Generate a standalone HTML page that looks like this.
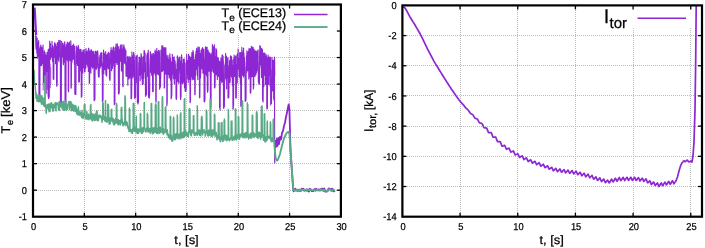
<!DOCTYPE html>
<html><head><meta charset="utf-8"><style>
html,body{margin:0;padding:0;background:#fff;}
body{width:705px;height:248px;overflow:hidden;font-family:"Liberation Sans",sans-serif;}
svg{display:block;will-change:transform;}
text{font-family:"Liberation Sans",sans-serif;text-rendering:geometricPrecision;stroke:#000;stroke-width:0.25px;}
</style></head><body>
<svg width="705" height="248" viewBox="0 0 705 248" font-family="Liberation Sans, sans-serif" fill="#000"><line x1="34.00" y1="190.50" x2="339.00" y2="190.50" stroke="#bcbcbc" stroke-width="1" stroke-dasharray="1 1"/>
<line x1="34.00" y1="163.50" x2="339.00" y2="163.50" stroke="#bcbcbc" stroke-width="1" stroke-dasharray="1 1"/>
<line x1="34.00" y1="137.50" x2="339.00" y2="137.50" stroke="#bcbcbc" stroke-width="1" stroke-dasharray="1 1"/>
<line x1="34.00" y1="110.50" x2="339.00" y2="110.50" stroke="#bcbcbc" stroke-width="1" stroke-dasharray="1 1"/>
<line x1="34.00" y1="84.50" x2="339.00" y2="84.50" stroke="#bcbcbc" stroke-width="1" stroke-dasharray="1 1"/>
<line x1="34.00" y1="57.50" x2="339.00" y2="57.50" stroke="#bcbcbc" stroke-width="1" stroke-dasharray="1 1"/>
<line x1="34.00" y1="31.50" x2="339.00" y2="31.50" stroke="#bcbcbc" stroke-width="1" stroke-dasharray="1 1"/>
<line x1="84.50" y1="5.00" x2="84.50" y2="215.00" stroke="#bcbcbc" stroke-width="1" stroke-dasharray="1 1"/>
<line x1="135.50" y1="5.00" x2="135.50" y2="215.00" stroke="#bcbcbc" stroke-width="1" stroke-dasharray="1 1"/>
<line x1="186.50" y1="5.00" x2="186.50" y2="215.00" stroke="#bcbcbc" stroke-width="1" stroke-dasharray="1 1"/>
<line x1="238.50" y1="5.00" x2="238.50" y2="215.00" stroke="#bcbcbc" stroke-width="1" stroke-dasharray="1 1"/>
<line x1="289.50" y1="5.00" x2="289.50" y2="215.00" stroke="#bcbcbc" stroke-width="1" stroke-dasharray="1 1"/>
<line x1="403.00" y1="186.50" x2="701.00" y2="186.50" stroke="#bcbcbc" stroke-width="1" stroke-dasharray="1 1"/>
<line x1="403.00" y1="156.50" x2="701.00" y2="156.50" stroke="#bcbcbc" stroke-width="1" stroke-dasharray="1 1"/>
<line x1="403.00" y1="126.50" x2="701.00" y2="126.50" stroke="#bcbcbc" stroke-width="1" stroke-dasharray="1 1"/>
<line x1="403.00" y1="95.50" x2="701.00" y2="95.50" stroke="#bcbcbc" stroke-width="1" stroke-dasharray="1 1"/>
<line x1="403.00" y1="65.50" x2="701.00" y2="65.50" stroke="#bcbcbc" stroke-width="1" stroke-dasharray="1 1"/>
<line x1="403.00" y1="35.50" x2="701.00" y2="35.50" stroke="#bcbcbc" stroke-width="1" stroke-dasharray="1 1"/>
<line x1="460.50" y1="6.00" x2="460.50" y2="215.00" stroke="#bcbcbc" stroke-width="1" stroke-dasharray="1 1"/>
<line x1="517.50" y1="6.00" x2="517.50" y2="215.00" stroke="#bcbcbc" stroke-width="1" stroke-dasharray="1 1"/>
<line x1="575.50" y1="6.00" x2="575.50" y2="215.00" stroke="#bcbcbc" stroke-width="1" stroke-dasharray="1 1"/>
<line x1="633.50" y1="6.00" x2="633.50" y2="215.00" stroke="#bcbcbc" stroke-width="1" stroke-dasharray="1 1"/>
<line x1="690.50" y1="6.00" x2="690.50" y2="215.00" stroke="#bcbcbc" stroke-width="1" stroke-dasharray="1 1"/>
<rect x="219" y="5" width="120.5" height="28.6" fill="#fff"/>
<rect x="590" y="6" width="111" height="21.5" fill="#fff"/>
<line x1="33.00" y1="190.17" x2="37.00" y2="190.17" stroke="#000" stroke-width="1.3"/>
<line x1="336.90" y1="190.17" x2="340.90" y2="190.17" stroke="#000" stroke-width="1.3"/>
<line x1="33.00" y1="163.65" x2="37.00" y2="163.65" stroke="#000" stroke-width="1.3"/>
<line x1="336.90" y1="163.65" x2="340.90" y2="163.65" stroke="#000" stroke-width="1.3"/>
<line x1="33.00" y1="137.12" x2="37.00" y2="137.12" stroke="#000" stroke-width="1.3"/>
<line x1="336.90" y1="137.12" x2="340.90" y2="137.12" stroke="#000" stroke-width="1.3"/>
<line x1="33.00" y1="110.60" x2="37.00" y2="110.60" stroke="#000" stroke-width="1.3"/>
<line x1="336.90" y1="110.60" x2="340.90" y2="110.60" stroke="#000" stroke-width="1.3"/>
<line x1="33.00" y1="84.07" x2="37.00" y2="84.07" stroke="#000" stroke-width="1.3"/>
<line x1="336.90" y1="84.07" x2="340.90" y2="84.07" stroke="#000" stroke-width="1.3"/>
<line x1="33.00" y1="57.55" x2="37.00" y2="57.55" stroke="#000" stroke-width="1.3"/>
<line x1="336.90" y1="57.55" x2="340.90" y2="57.55" stroke="#000" stroke-width="1.3"/>
<line x1="33.00" y1="31.03" x2="37.00" y2="31.03" stroke="#000" stroke-width="1.3"/>
<line x1="336.90" y1="31.03" x2="340.90" y2="31.03" stroke="#000" stroke-width="1.3"/>
<line x1="84.32" y1="216.70" x2="84.32" y2="212.70" stroke="#000" stroke-width="1.3"/>
<line x1="84.32" y1="4.50" x2="84.32" y2="8.50" stroke="#000" stroke-width="1.3"/>
<line x1="135.63" y1="216.70" x2="135.63" y2="212.70" stroke="#000" stroke-width="1.3"/>
<line x1="135.63" y1="4.50" x2="135.63" y2="8.50" stroke="#000" stroke-width="1.3"/>
<line x1="186.95" y1="216.70" x2="186.95" y2="212.70" stroke="#000" stroke-width="1.3"/>
<line x1="186.95" y1="4.50" x2="186.95" y2="8.50" stroke="#000" stroke-width="1.3"/>
<line x1="238.27" y1="216.70" x2="238.27" y2="212.70" stroke="#000" stroke-width="1.3"/>
<line x1="238.27" y1="4.50" x2="238.27" y2="8.50" stroke="#000" stroke-width="1.3"/>
<line x1="289.58" y1="216.70" x2="289.58" y2="212.70" stroke="#000" stroke-width="1.3"/>
<line x1="289.58" y1="4.50" x2="289.58" y2="8.50" stroke="#000" stroke-width="1.3"/>
<line x1="402.40" y1="186.51" x2="406.40" y2="186.51" stroke="#000" stroke-width="1.3"/>
<line x1="698.00" y1="186.51" x2="702.00" y2="186.51" stroke="#000" stroke-width="1.3"/>
<line x1="402.40" y1="156.33" x2="406.40" y2="156.33" stroke="#000" stroke-width="1.3"/>
<line x1="698.00" y1="156.33" x2="702.00" y2="156.33" stroke="#000" stroke-width="1.3"/>
<line x1="402.40" y1="126.14" x2="406.40" y2="126.14" stroke="#000" stroke-width="1.3"/>
<line x1="698.00" y1="126.14" x2="702.00" y2="126.14" stroke="#000" stroke-width="1.3"/>
<line x1="402.40" y1="95.96" x2="406.40" y2="95.96" stroke="#000" stroke-width="1.3"/>
<line x1="698.00" y1="95.96" x2="702.00" y2="95.96" stroke="#000" stroke-width="1.3"/>
<line x1="402.40" y1="65.77" x2="406.40" y2="65.77" stroke="#000" stroke-width="1.3"/>
<line x1="698.00" y1="65.77" x2="702.00" y2="65.77" stroke="#000" stroke-width="1.3"/>
<line x1="402.40" y1="35.59" x2="406.40" y2="35.59" stroke="#000" stroke-width="1.3"/>
<line x1="698.00" y1="35.59" x2="702.00" y2="35.59" stroke="#000" stroke-width="1.3"/>
<line x1="460.07" y1="216.70" x2="460.07" y2="212.70" stroke="#000" stroke-width="1.3"/>
<line x1="460.07" y1="5.40" x2="460.07" y2="9.40" stroke="#000" stroke-width="1.3"/>
<line x1="517.75" y1="216.70" x2="517.75" y2="212.70" stroke="#000" stroke-width="1.3"/>
<line x1="517.75" y1="5.40" x2="517.75" y2="9.40" stroke="#000" stroke-width="1.3"/>
<line x1="575.42" y1="216.70" x2="575.42" y2="212.70" stroke="#000" stroke-width="1.3"/>
<line x1="575.42" y1="5.40" x2="575.42" y2="9.40" stroke="#000" stroke-width="1.3"/>
<line x1="633.10" y1="216.70" x2="633.10" y2="212.70" stroke="#000" stroke-width="1.3"/>
<line x1="633.10" y1="5.40" x2="633.10" y2="9.40" stroke="#000" stroke-width="1.3"/>
<line x1="690.77" y1="216.70" x2="690.77" y2="212.70" stroke="#000" stroke-width="1.3"/>
<line x1="690.77" y1="5.40" x2="690.77" y2="9.40" stroke="#000" stroke-width="1.3"/>
<polyline points="34.60,7.60 35.00,14.00 35.40,22.00 35.80,30.00 36.20,35.00" fill="none" stroke="#8d26d3" stroke-width="2.2" stroke-linejoin="round" stroke-opacity="1.0"/>
<polyline points="35.60,30.00 35.80,42.19 35.90,46.75 36.00,48.05 36.10,49.14 36.20,36.71 36.30,36.44 36.40,39.70 36.50,38.35 36.60,40.25 36.70,38.97 36.80,52.96 36.90,51.32 37.00,48.51 37.10,48.18 37.20,38.00 37.30,53.36 37.40,58.23 37.50,42.26 37.60,53.23 37.70,54.65 37.80,43.10 37.90,55.57 38.00,50.44 38.10,51.15 38.20,52.15 38.30,55.13 38.40,46.77 38.50,56.14 38.60,44.45 38.70,40.57 38.80,51.05 38.90,48.05 39.00,101.68 39.10,98.62 39.25,100.47 39.35,100.04 39.50,101.30 39.60,99.91 39.75,100.45 39.85,97.12 40.00,48.94 40.12,51.91 40.22,47.07 40.32,50.65 40.42,56.10 40.52,48.16 40.62,65.67 40.72,45.73 40.82,45.07 40.92,48.00 41.02,58.28 41.12,46.86 41.22,59.50 41.32,56.26 41.42,56.68 41.52,58.69 41.62,50.32 41.72,65.50 41.82,47.49 41.92,53.57 42.02,60.68 42.12,47.84 42.22,56.30 42.32,63.59 42.42,60.75 42.52,52.46 42.62,49.12 42.72,59.90 42.82,54.17 42.92,53.97 43.02,45.02 43.12,53.92 43.22,60.58 43.32,63.07 43.42,54.71 43.52,62.20 43.62,81.67 43.72,82.06 43.87,82.51 43.97,79.35 44.12,81.89 44.22,82.15 44.37,50.74 44.49,53.22 44.59,61.93 44.69,65.86 44.79,69.69 44.89,66.98 44.99,75.14 45.09,52.69 45.19,66.98 45.29,55.00 45.39,71.22 45.49,58.76 45.59,58.28 45.69,55.00 45.79,56.13 45.89,70.20 45.99,56.73 46.09,57.96 46.19,58.07 46.29,64.56 46.39,59.76 46.49,69.28 46.59,54.74 46.69,71.17 46.79,55.94 46.89,55.34 46.99,60.53 47.09,52.21 47.19,61.99 47.29,71.55 47.39,67.25 47.49,65.84 47.59,63.00 47.69,62.15 47.79,54.42 47.89,63.11 47.99,66.28 48.09,54.03 48.19,50.66 48.29,49.35 48.39,57.89 48.49,98.42 48.59,97.70 48.74,98.42 48.84,96.02 48.99,59.76 49.11,52.94 49.21,57.81 49.31,50.47 49.41,47.91 49.51,58.52 49.61,67.54 49.71,40.99 49.81,50.37 49.91,52.29 50.01,44.11 50.11,52.69 50.21,43.42 50.31,54.13 50.41,43.87 50.51,46.27 50.61,59.25 50.71,50.53 50.81,55.60 50.91,57.67 51.01,53.77 51.11,54.93 51.21,49.50 51.31,49.29 51.41,48.97 51.51,56.46 51.61,48.14 51.71,48.92 51.81,57.03 51.91,55.49 52.01,41.43 52.11,52.72 52.21,54.44 52.31,52.77 52.41,45.22 52.51,47.13 52.61,61.46 52.71,49.99 52.81,52.62 52.91,59.02 53.01,46.56 53.11,50.82 53.21,78.94 53.31,78.70 53.46,78.40 53.56,77.74 53.71,79.51 53.81,78.20 53.96,50.34 54.08,57.47 54.18,56.19 54.28,48.26 54.38,45.13 54.48,54.85 54.58,42.78 54.68,57.13 54.78,42.83 54.88,45.81 54.98,48.18 55.08,46.02 55.18,51.09 55.28,45.10 55.38,46.64 55.48,46.07 55.58,63.65 55.68,54.94 55.78,44.09 55.88,56.21 55.98,59.53 56.08,53.20 56.18,55.89 56.28,46.24 56.38,50.63 56.48,49.71 56.58,84.69 56.68,84.06 56.83,86.19 56.93,83.91 57.08,85.76 57.18,80.76 57.33,42.81 57.45,44.88 57.55,42.66 57.65,44.89 57.75,57.09 57.85,53.48 57.95,49.55 58.05,44.93 58.15,59.32 58.25,43.25 58.35,53.24 58.45,45.91 58.55,59.25 58.65,47.77 58.75,40.26 58.85,61.55 58.95,54.70 59.05,52.77 59.15,53.55 59.25,51.67 59.35,40.70 59.45,49.92 59.55,56.67 59.65,43.93 59.75,45.67 59.85,50.51 59.95,47.36 60.05,55.20 60.15,49.69 60.25,40.64 60.35,45.02 60.45,103.46 60.55,101.11 60.70,105.22 60.80,102.79 60.95,103.04 61.05,102.78 61.20,103.75 61.30,103.34 61.45,58.49 61.57,51.88 61.67,41.35 61.77,44.11 61.87,56.96 61.97,47.99 62.07,50.68 62.17,47.63 62.27,54.28 62.37,49.21 62.47,55.57 62.57,43.29 62.67,55.89 62.77,56.25 62.87,50.96 62.97,50.55 63.07,47.86 63.17,63.32 63.27,45.53 63.37,64.79 63.47,56.41 63.57,47.27 63.67,51.69 63.77,62.75 63.87,51.05 63.97,43.84 64.07,59.09 64.17,43.05 64.27,49.04 64.37,43.94 64.47,57.97 64.57,50.65 64.67,48.12 64.77,41.82 64.87,44.07 64.97,60.99 65.07,103.91 65.17,101.06 65.32,104.68 65.42,101.36 65.57,103.39 65.67,101.29 65.82,103.24 65.92,101.44 66.07,46.76 66.19,51.38 66.29,53.95 66.39,44.90 66.49,56.31 66.59,47.22 66.69,52.39 66.79,52.74 66.89,58.08 66.99,44.37 67.09,45.54 67.19,60.05 67.29,42.00 67.39,50.96 67.49,43.90 67.59,51.31 67.69,56.55 67.79,45.00 67.89,61.61 67.99,44.60 68.09,47.96 68.19,43.13 68.29,90.41 68.39,90.38 68.54,91.66 68.64,88.38 68.79,52.65 68.91,44.97 69.01,43.64 69.11,44.82 69.21,48.80 69.31,47.41 69.41,42.01 69.51,46.96 69.61,56.75 69.71,59.56 69.81,47.95 69.91,46.91 70.01,50.36 70.11,60.67 70.21,55.99 70.31,45.03 70.41,55.77 70.51,60.26 70.61,44.60 70.71,61.08 70.81,40.73 70.91,44.40 71.01,88.06 71.11,85.93 71.26,88.08 71.36,84.82 71.51,56.50 71.63,46.23 71.73,50.87 71.83,60.75 71.93,48.30 72.03,61.97 72.13,50.39 72.23,51.07 72.33,58.18 72.43,52.01 72.53,51.77 72.63,45.34 72.73,54.48 72.83,59.45 72.93,48.33 73.03,49.65 73.13,51.01 73.23,56.24 73.33,46.44 73.43,58.84 73.53,56.41 73.63,43.97 73.73,49.16 73.83,56.05 73.93,47.57 74.03,46.46 74.13,48.50 74.23,48.53 74.33,50.11 74.43,64.45 74.53,46.22 74.63,56.36 74.73,51.26 74.83,93.53 74.93,92.49 75.08,94.40 75.18,90.31 75.33,94.28 75.43,91.70 75.58,93.51 75.68,92.23 75.83,94.42 75.93,88.80 76.08,54.17 76.20,59.50 76.30,46.04 76.40,63.62 76.50,48.14 76.60,47.27 76.70,47.30 76.80,58.31 76.90,49.38 77.00,52.61 77.10,48.40 77.20,59.44 77.30,58.30 77.40,51.48 77.50,65.46 77.60,58.95 77.70,47.77 77.80,48.53 77.90,60.20 78.00,62.22 78.10,50.45 78.20,45.37 78.30,51.73 78.40,54.71 78.50,56.76 78.60,46.83 78.70,82.00 78.80,77.75 78.95,81.09 79.05,77.13 79.20,79.91 79.30,79.33 79.45,81.76 79.55,76.85 79.70,57.80 79.82,49.44 79.92,59.09 80.02,71.07 80.12,56.31 80.22,66.90 80.32,51.20 80.42,64.45 80.52,62.26 80.62,52.22 80.72,49.21 80.82,51.96 80.92,67.50 81.02,49.80 81.12,60.87 81.22,69.58 81.32,97.29 81.42,93.18 81.57,96.20 81.67,93.33 81.82,96.46 81.92,92.72 82.07,52.41 82.19,67.24 82.29,57.07 82.39,53.78 82.49,53.75 82.59,54.61 82.69,66.54 82.79,72.98 82.89,55.47 82.99,50.18 83.09,60.25 83.19,61.19 83.29,67.75 83.39,64.05 83.49,67.53 83.59,65.37 83.69,60.27 83.79,52.34 83.89,53.93 83.99,51.17 84.09,66.54 84.19,49.55 84.29,51.30 84.39,59.54 84.49,71.34 84.59,68.89 84.74,71.99 84.84,67.95 84.99,71.74 85.09,69.01 85.24,58.15 85.36,53.28 85.46,54.40 85.56,55.97 85.66,65.67 85.76,50.82 85.86,68.09 85.96,48.69 86.06,49.76 86.16,52.78 86.26,57.51 86.36,54.64 86.46,64.32 86.56,59.28 86.66,58.89 86.76,56.71 86.86,56.00 86.96,51.23 87.06,63.44 87.16,53.62 87.26,62.50 87.36,56.51 87.46,52.27 87.56,62.50 87.66,65.70 87.76,57.49 87.86,66.68 87.96,62.04 88.06,67.03 88.16,50.15 88.26,60.25 88.36,71.40 88.46,48.20 88.56,55.74 88.66,60.23 88.76,67.09 88.86,59.60 88.96,48.78 89.06,51.51 89.16,61.26 89.26,83.26 89.36,79.03 89.51,83.28 89.61,78.57 89.76,51.46 89.88,63.28 89.98,52.05 90.08,54.59 90.18,63.19 90.28,50.77 90.38,68.21 90.48,63.77 90.58,65.93 90.68,66.25 90.78,65.87 90.88,72.93 90.98,54.22 91.08,60.30 91.18,67.23 91.28,49.68 91.38,64.91 91.48,58.83 91.58,61.64 91.68,51.45 91.78,66.25 91.88,51.01 91.98,56.53 92.08,60.39 92.18,55.72 92.28,60.94 92.38,62.80 92.48,65.01 92.58,68.12 92.68,52.25 92.78,55.11 92.88,60.96 92.98,51.70 93.08,51.42 93.18,66.41 93.28,52.38 93.38,58.55 93.48,58.93 93.58,57.25 93.68,67.28 93.78,53.00 93.88,58.87 93.98,51.90 94.08,100.38 94.18,96.26 94.33,100.72 94.43,98.87 94.58,100.25 94.68,98.63 94.83,99.13 94.93,99.57 95.08,54.60 95.20,63.38 95.30,67.22 95.40,67.98 95.50,51.10 95.60,68.56 95.70,51.85 95.80,67.64 95.90,63.58 96.00,66.13 96.10,52.49 96.20,53.09 96.30,69.36 96.40,59.88 96.50,55.57 96.60,67.66 96.70,56.37 96.80,67.77 96.90,51.46 97.00,61.45 97.10,64.12 97.20,51.16 97.30,52.04 97.40,64.23 97.50,61.89 97.60,50.81 97.70,53.17 97.80,52.14 97.90,53.96 98.00,60.64 98.10,68.42 98.20,57.00 98.30,73.99 98.40,75.60 98.50,76.45 98.65,76.19 98.75,75.81 98.90,77.14 99.00,74.43 99.15,76.68 99.25,72.56 99.40,64.11 99.52,64.16 99.62,58.44 99.72,59.94 99.82,55.49 99.92,58.99 100.02,66.67 100.12,57.26 100.22,67.98 100.32,61.12 100.42,62.94 100.52,53.81 100.62,63.23 100.72,62.63 100.82,56.89 100.92,55.81 101.02,63.51 101.12,52.61 101.22,66.03 101.32,56.77 101.42,52.90 101.52,61.44 101.62,59.00 101.72,64.34 101.82,64.72 101.92,52.91 102.02,62.30 102.12,67.58 102.22,74.52 102.32,63.73 102.42,101.51 102.52,99.36 102.67,101.18 102.77,98.53 102.92,100.57 103.02,98.10 103.17,64.05 103.29,63.28 103.39,61.90 103.49,61.03 103.59,50.14 103.69,57.71 103.79,73.75 103.89,57.13 103.99,62.11 104.09,67.55 104.19,57.24 104.29,53.13 104.39,55.69 104.49,69.49 104.59,65.46 104.69,61.28 104.79,55.88 104.89,64.54 104.99,55.94 105.09,69.59 105.19,67.07 105.29,64.40 105.39,54.68 105.49,62.07 105.59,56.05 105.69,51.66 105.79,58.60 105.89,74.68 105.99,74.14 106.14,75.09 106.24,72.38 106.39,75.68 106.49,74.32 106.64,75.86 106.74,72.09 106.89,54.87 107.01,58.86 107.11,65.50 107.21,68.49 107.31,62.41 107.41,65.94 107.51,64.39 107.61,66.07 107.71,62.88 107.81,56.50 107.91,53.37 108.01,57.04 108.11,66.49 108.21,63.00 108.31,54.36 108.41,52.35 108.51,68.53 108.61,64.53 108.71,59.61 108.81,58.31 108.91,59.53 109.01,55.85 109.11,69.30 109.21,54.47 109.31,52.97 109.41,66.45 109.51,78.71 109.61,76.94 109.76,80.06 109.86,78.23 110.01,80.34 110.11,77.25 110.26,58.57 110.38,59.60 110.48,63.15 110.58,59.71 110.68,50.65 110.78,55.41 110.88,51.31 110.98,57.47 111.08,47.59 111.18,63.58 111.28,58.56 111.38,61.23 111.48,63.60 111.58,70.70 111.68,50.39 111.78,52.67 111.88,62.06 111.98,61.01 112.08,54.89 112.18,53.00 112.28,62.15 112.38,68.50 112.48,59.98 112.58,60.86 112.68,50.48 112.78,52.10 112.88,66.14 112.98,47.89 113.08,61.97 113.18,57.72 113.28,53.09 113.38,63.18 113.48,50.14 113.58,46.92 113.68,58.18 113.78,48.15 113.88,61.62 113.98,48.05 114.08,58.34 114.18,54.66 114.28,104.82 114.38,99.52 114.53,103.98 114.63,100.51 114.78,103.78 114.88,103.06 115.03,51.56 115.15,66.79 115.25,53.68 115.35,52.67 115.45,47.03 115.55,61.46 115.65,54.03 115.75,56.01 115.85,62.45 115.95,51.76 116.05,43.97 116.15,58.20 116.25,61.09 116.35,54.81 116.45,54.24 116.55,54.60 116.65,60.34 116.75,48.41 116.85,52.66 116.95,64.28 117.05,64.48 117.15,58.36 117.25,52.35 117.35,43.76 117.45,47.25 117.55,51.35 117.65,46.22 117.75,62.80 117.85,57.20 117.95,49.44 118.05,59.86 118.15,48.34 118.25,52.20 118.35,46.73 118.45,93.57 118.55,90.99 118.70,93.92 118.80,91.25 118.95,93.79 119.05,91.28 119.20,92.93 119.30,90.80 119.45,49.68 119.57,54.43 119.67,58.47 119.77,61.30 119.87,57.50 119.97,47.77 120.07,49.45 120.17,47.20 120.27,45.76 120.37,59.28 120.47,47.40 120.57,61.29 120.67,45.03 120.77,53.57 120.87,55.15 120.97,57.58 121.07,58.28 121.17,58.76 121.27,59.12 121.37,70.95 121.47,50.13 121.57,54.97 121.67,49.73 121.77,51.95 121.87,53.44 121.97,44.47 122.07,45.97 122.17,50.72 122.27,51.99 122.37,71.25 122.47,48.81 122.57,52.38 122.67,58.43 122.77,86.36 122.87,83.67 123.02,86.68 123.12,86.64 123.27,50.58 123.39,59.63 123.49,54.21 123.59,46.37 123.69,51.05 123.79,49.87 123.89,44.90 123.99,48.55 124.09,49.36 124.19,48.74 124.29,49.49 124.39,63.19 124.49,47.60 124.59,55.63 124.69,62.00 124.79,55.66 124.89,54.78 124.99,48.90 125.09,50.91 125.19,62.27 125.29,49.80 125.39,51.95 125.49,53.24 125.59,59.93 125.69,64.16 125.79,55.01 125.89,50.60 125.99,74.30 126.09,74.88 126.24,76.54 126.34,72.51 126.49,75.39 126.59,74.04 126.74,66.55 126.86,65.09 126.96,72.93 127.06,62.11 127.16,75.88 127.26,73.78 127.36,57.34 127.46,58.61 127.56,58.04 127.66,61.39 127.76,56.28 127.86,85.24 127.96,64.68 128.06,74.64 128.16,75.83 128.26,70.22 128.36,77.07 128.46,63.81 128.56,76.14 128.66,61.19 128.76,62.73 128.86,63.40 128.96,57.36 129.06,79.01 129.16,65.81 129.26,56.56 129.36,74.54 129.46,77.24 129.56,58.67 129.66,67.78 129.76,61.95 129.86,60.44 129.96,59.00 130.06,75.86 130.16,70.82 130.26,60.97 130.36,77.65 130.46,67.74 130.56,61.09 130.66,57.19 130.76,73.20 130.86,77.50 130.96,77.48 131.06,98.64 131.16,95.38 131.31,98.83 131.41,97.14 131.56,98.15 131.66,94.59 131.81,72.94 131.93,52.12 132.03,60.56 132.13,75.26 132.23,61.45 132.33,73.70 132.43,72.95 132.53,64.59 132.63,62.62 132.73,68.75 132.83,66.09 132.93,66.21 133.03,77.81 133.13,55.41 133.23,66.07 133.33,73.32 133.43,70.57 133.53,66.22 133.63,52.39 133.73,75.66 133.83,72.40 133.93,61.89 134.03,61.41 134.13,54.13 134.23,56.62 134.33,63.54 134.43,60.28 134.53,98.19 134.63,94.25 134.78,97.86 134.88,94.88 135.03,98.00 135.13,95.04 135.28,96.58 135.38,96.20 135.53,97.71 135.63,94.52 135.78,56.82 135.90,65.20 136.00,71.73 136.10,68.43 136.20,56.15 136.30,71.27 136.40,68.69 136.50,62.55 136.60,66.54 136.70,73.44 136.80,75.98 136.90,82.63 137.00,71.49 137.10,64.40 137.20,55.15 137.30,64.90 137.40,102.38 137.50,101.86 137.65,102.47 137.75,101.96 137.90,104.03 138.00,100.72 138.15,102.98 138.25,99.42 138.40,102.30 138.50,101.94 138.65,72.07 138.77,62.42 138.87,75.27 138.97,75.76 139.07,57.53 139.17,60.55 139.27,65.04 139.37,71.50 139.47,57.08 139.57,72.70 139.67,74.53 139.77,61.94 139.87,57.70 139.97,58.86 140.07,62.22 140.17,80.79 140.27,68.80 140.37,74.86 140.47,75.16 140.57,72.53 140.67,65.59 140.77,67.36 140.87,72.17 140.97,73.29 141.07,53.52 141.17,59.15 141.27,54.50 141.37,66.61 141.47,71.68 141.57,58.24 141.67,56.18 141.77,79.04 141.87,76.06 141.97,66.22 142.07,69.47 142.17,60.70 142.27,57.66 142.37,84.41 142.47,82.22 142.62,84.37 142.72,84.58 142.87,84.06 142.97,83.23 143.12,83.98 143.22,82.38 143.37,66.83 143.49,67.43 143.59,56.43 143.69,60.81 143.79,78.04 143.89,58.62 143.99,55.62 144.09,50.49 144.19,64.38 144.29,57.34 144.39,71.48 144.49,50.87 144.59,65.51 144.69,57.79 144.79,59.78 144.89,53.31 144.99,68.17 145.09,53.02 145.19,68.27 145.29,73.19 145.39,62.08 145.49,96.17 145.59,91.93 145.74,96.25 145.84,93.79 145.99,94.21 146.09,92.51 146.24,94.53 146.34,91.58 146.49,94.69 146.59,93.72 146.74,69.73 146.86,58.07 146.96,54.73 147.06,67.33 147.16,60.33 147.26,56.60 147.36,65.43 147.46,53.23 147.56,76.23 147.66,69.11 147.76,67.14 147.86,66.40 147.96,54.34 148.06,52.79 148.16,70.39 148.26,50.20 148.36,54.62 148.46,67.98 148.56,97.31 148.66,94.30 148.81,95.39 148.91,93.77 149.06,96.81 149.16,96.05 149.31,97.95 149.41,92.91 149.56,96.09 149.66,92.97 149.81,66.19 149.93,63.59 150.03,58.71 150.13,62.04 150.23,56.08 150.33,51.67 150.43,72.03 150.53,69.15 150.63,53.63 150.73,72.14 150.83,66.01 150.93,54.53 151.03,62.25 151.13,56.85 151.23,58.19 151.33,56.84 151.43,59.50 151.53,73.76 151.63,68.60 151.73,71.36 151.83,75.38 151.93,66.52 152.03,63.55 152.13,53.77 152.23,70.20 152.33,56.26 152.43,69.16 152.53,74.51 152.63,91.62 152.73,86.67 152.88,90.40 152.98,88.71 153.13,91.57 153.23,90.27 153.38,53.59 153.50,69.27 153.60,58.86 153.70,57.24 153.80,73.15 153.90,71.55 154.00,67.30 154.10,62.99 154.20,58.79 154.30,72.58 154.40,69.08 154.50,54.55 154.60,63.83 154.70,55.80 154.80,57.68 154.90,51.31 155.00,64.52 155.10,50.10 155.20,75.01 155.30,54.09 155.40,60.61 155.50,61.34 155.60,71.72 155.70,51.87 155.80,101.01 155.90,97.77 156.05,102.18 156.15,100.82 156.30,64.02 156.42,61.20 156.52,55.57 156.62,51.45 156.72,73.62 156.82,48.45 156.92,59.19 157.02,54.87 157.12,66.90 157.22,61.29 157.32,71.13 157.42,66.17 157.52,73.23 157.62,71.87 157.72,74.27 157.82,62.16 157.92,54.01 158.02,51.47 158.12,54.01 158.22,51.73 158.32,70.69 158.42,66.55 158.52,50.62 158.62,67.63 158.72,66.78 158.82,75.09 158.92,64.06 159.02,50.31 159.12,51.71 159.22,57.22 159.32,51.77 159.42,51.84 159.52,62.61 159.62,89.20 159.72,84.05 159.87,87.85 159.97,86.55 160.12,87.33 160.22,86.38 160.37,87.07 160.47,86.71 160.62,74.08 160.74,78.28 160.84,58.48 160.94,50.00 161.04,51.03 161.14,53.46 161.24,55.87 161.34,71.63 161.44,63.84 161.54,68.35 161.64,50.08 161.74,51.88 161.84,45.86 161.94,57.43 162.04,66.36 162.14,51.68 162.24,71.43 162.34,67.92 162.44,54.32 162.54,50.89 162.64,49.10 162.74,45.80 162.84,64.06 162.94,67.73 163.04,67.97 163.14,70.13 163.24,48.23 163.34,55.77 163.44,50.77 163.54,47.70 163.64,65.18 163.74,52.37 163.84,65.10 163.94,49.53 164.04,71.10 164.14,48.38 164.24,87.99 164.34,86.60 164.49,87.95 164.59,86.92 164.74,50.60 164.86,47.55 164.96,70.15 165.06,66.38 165.16,56.39 165.26,73.32 165.36,67.65 165.46,73.97 165.56,64.71 165.66,59.98 165.76,55.60 165.86,47.80 165.96,70.45 166.06,55.14 166.16,73.46 166.26,54.66 166.36,74.39 166.46,72.92 166.56,56.56 166.66,70.19 166.76,59.98 166.86,105.78 166.96,103.68 167.11,104.03 167.21,100.96 167.36,60.83 167.48,60.95 167.58,65.82 167.68,58.56 167.78,58.55 167.88,55.23 167.98,56.96 168.08,68.65 168.18,62.82 168.28,66.58 168.38,73.02 168.48,74.52 168.58,70.46 168.68,65.24 168.78,74.05 168.88,59.41 168.98,68.23 169.08,76.05 169.18,78.13 169.28,75.18 169.38,67.86 169.48,74.19 169.58,59.33 169.68,72.76 169.78,53.88 169.88,62.28 169.98,54.62 170.08,68.53 170.18,70.99 170.28,76.41 170.38,74.09 170.48,58.10 170.58,80.05 170.68,79.67 170.78,71.03 170.88,64.65 170.98,61.51 171.08,68.50 171.18,98.82 171.28,95.34 171.43,98.06 171.53,94.38 171.68,96.48 171.78,94.46 171.93,73.62 172.05,62.40 172.15,77.70 172.25,60.72 172.35,54.35 172.45,71.28 172.55,70.94 172.65,62.17 172.75,73.01 172.85,74.22 172.95,74.10 173.05,66.60 173.15,72.00 173.25,57.61 173.35,74.19 173.45,71.96 173.55,58.32 173.65,78.82 173.75,66.81 173.85,62.31 173.95,73.80 174.05,62.71 174.15,56.83 174.25,61.63 174.35,83.89 174.45,70.96 174.55,78.31 174.65,79.16 174.75,60.12 174.85,62.07 174.95,62.91 175.05,61.45 175.15,61.89 175.25,71.94 175.35,64.15 175.45,78.50 175.55,75.10 175.65,70.40 175.75,71.74 175.85,69.20 175.95,70.54 176.05,97.94 176.15,95.47 176.30,99.46 176.40,95.44 176.55,98.13 176.65,95.61 176.80,71.41 176.92,68.78 177.02,63.32 177.12,65.93 177.22,66.52 177.32,59.38 177.42,55.72 177.52,67.95 177.62,72.43 177.72,76.15 177.82,58.90 177.92,81.46 178.02,81.42 178.12,58.81 178.22,66.87 178.32,81.13 178.42,82.06 178.52,62.90 178.62,69.67 178.72,79.76 178.82,83.30 178.92,72.02 179.02,68.72 179.12,73.04 179.22,57.18 179.32,64.99 179.42,69.09 179.52,57.98 179.62,64.79 179.72,67.95 179.82,68.66 179.92,57.19 180.02,58.40 180.12,68.73 180.22,65.08 180.32,69.76 180.42,97.02 180.52,96.44 180.67,99.49 180.77,97.60 180.92,97.11 181.02,96.50 181.17,60.96 181.29,78.64 181.39,60.71 181.49,63.33 181.59,54.90 181.69,60.31 181.79,82.62 181.89,62.98 181.99,69.80 182.09,79.52 182.19,80.43 182.29,71.38 182.39,69.60 182.49,83.66 182.59,64.05 182.69,74.60 182.79,83.63 182.89,73.69 182.99,74.98 183.09,70.42 183.19,59.02 183.29,75.55 183.39,69.80 183.49,67.20 183.59,73.28 183.69,63.25 183.79,73.17 183.89,79.10 183.99,82.30 184.09,79.96 184.19,74.59 184.29,59.06 184.39,71.71 184.49,87.55 184.59,80.96 184.69,68.05 184.79,66.55 184.89,66.79 184.99,63.19 185.09,90.99 185.19,87.90 185.34,91.14 185.44,86.31 185.59,88.70 185.69,89.24 185.84,91.46 185.94,89.61 186.09,88.83 186.19,89.33 186.34,74.64 186.46,61.15 186.56,73.79 186.66,54.57 186.76,61.99 186.86,72.79 186.96,63.96 187.06,67.64 187.16,69.61 187.26,72.37 187.36,68.30 187.46,68.33 187.56,60.65 187.66,78.87 187.76,77.99 187.86,70.61 187.96,75.53 188.06,63.07 188.16,67.78 188.26,82.50 188.36,70.86 188.46,58.02 188.56,54.20 188.66,65.88 188.76,78.92 188.86,74.75 188.96,54.95 189.06,79.49 189.16,66.98 189.26,63.99 189.36,60.43 189.46,56.44 189.56,64.51 189.66,69.55 189.76,61.46 189.86,62.43 189.96,73.68 190.06,102.73 190.16,100.13 190.31,102.02 190.41,101.47 190.56,67.18 190.68,57.14 190.78,77.18 190.88,57.66 190.98,64.08 191.08,60.38 191.18,69.22 191.28,66.74 191.38,68.24 191.48,75.91 191.58,73.35 191.68,62.04 191.78,58.00 191.88,52.59 191.98,60.59 192.08,79.82 192.18,73.21 192.28,59.98 192.38,64.66 192.48,78.45 192.58,55.43 192.68,66.29 192.78,57.01 192.88,66.51 192.98,50.44 193.08,73.39 193.18,78.99 193.28,68.08 193.38,52.07 193.48,68.04 193.58,74.30 193.68,70.58 193.78,79.44 193.88,73.64 193.98,63.74 194.08,79.19 194.18,76.44 194.28,59.89 194.38,69.75 194.48,71.13 194.58,60.56 194.68,59.55 194.78,94.51 194.88,91.27 195.03,94.78 195.13,92.59 195.28,61.91 195.40,54.49 195.50,75.50 195.60,73.20 195.70,64.28 195.80,64.58 195.90,58.15 196.00,51.23 196.10,69.20 196.20,53.27 196.30,50.66 196.40,65.76 196.50,59.26 196.60,49.96 196.70,48.28 196.80,58.86 196.90,50.47 197.00,66.27 197.10,67.95 197.20,66.45 197.30,75.24 197.40,75.35 197.50,53.62 197.60,57.60 197.70,61.78 197.80,79.61 197.90,69.84 198.00,46.74 198.10,49.40 198.20,51.55 198.30,50.83 198.40,52.87 198.50,65.04 198.60,53.52 198.70,49.70 198.80,56.19 198.90,57.24 199.00,62.55 199.10,66.27 199.20,55.54 199.30,47.23 199.40,58.93 199.50,97.39 199.60,97.46 199.75,97.83 199.85,95.39 200.00,72.11 200.12,53.47 200.22,57.62 200.32,73.04 200.42,62.38 200.52,77.95 200.62,57.08 200.72,73.50 200.82,66.21 200.92,54.82 201.02,50.44 201.12,57.91 201.22,60.21 201.32,58.98 201.42,65.33 201.52,51.28 201.62,49.52 201.72,59.47 201.82,49.88 201.92,67.40 202.02,68.98 202.12,48.41 202.22,66.88 202.32,64.18 202.42,64.21 202.52,69.09 202.62,47.67 202.72,61.84 202.82,62.15 202.92,73.29 203.02,52.14 203.12,54.99 203.22,64.98 203.32,72.52 203.42,70.65 203.52,52.56 203.62,62.49 203.72,49.12 203.82,50.35 203.92,57.13 204.02,60.38 204.12,101.38 204.22,96.75 204.37,101.60 204.47,97.75 204.62,101.95 204.72,97.63 204.87,100.40 204.97,97.34 205.12,59.69 205.24,62.73 205.34,54.13 205.44,46.81 205.54,47.46 205.64,74.15 205.74,56.12 205.84,64.98 205.94,65.77 206.04,60.44 206.14,47.55 206.24,53.26 206.34,70.14 206.44,49.51 206.54,60.48 206.64,75.93 206.74,53.73 206.84,67.94 206.94,71.39 207.04,47.09 207.14,59.82 207.24,61.54 207.34,90.14 207.44,87.92 207.59,92.20 207.69,90.19 207.84,91.11 207.94,90.27 208.09,50.04 208.21,58.21 208.31,70.61 208.41,70.84 208.51,63.29 208.61,64.76 208.71,53.69 208.81,52.41 208.91,66.92 209.01,56.51 209.11,52.55 209.21,71.16 209.31,55.68 209.41,55.46 209.51,69.31 209.61,53.14 209.71,67.36 209.81,53.17 209.91,53.65 210.01,58.21 210.11,63.85 210.21,75.84 210.31,54.21 210.41,108.40 210.51,103.21 210.66,107.84 210.76,106.40 210.91,106.96 211.01,103.06 211.16,69.21 211.28,56.58 211.38,54.59 211.48,68.36 211.58,70.04 211.68,64.87 211.78,52.92 211.88,71.43 211.98,71.00 212.08,68.18 212.18,66.99 212.28,63.79 212.38,44.65 212.48,50.82 212.58,68.54 212.68,45.73 212.78,62.55 212.88,65.49 212.98,60.69 213.08,47.42 213.18,55.35 213.28,52.23 213.38,72.34 213.48,63.06 213.58,63.79 213.68,47.04 213.78,50.22 213.88,59.10 213.98,66.01 214.08,71.59 214.18,68.54 214.28,48.05 214.38,44.83 214.48,87.55 214.58,85.06 214.73,87.85 214.83,86.11 214.98,87.41 215.08,85.81 215.23,70.26 215.35,73.16 215.45,56.85 215.55,62.56 215.65,69.57 215.75,53.31 215.85,49.98 215.95,48.37 216.05,59.99 216.15,61.57 216.25,74.84 216.35,57.53 216.45,55.69 216.55,69.99 216.65,49.96 216.75,61.51 216.85,66.00 216.95,74.41 217.05,60.47 217.15,68.94 217.25,63.97 217.35,79.51 217.45,65.60 217.55,65.35 217.65,57.58 217.75,59.90 217.85,69.86 217.95,58.53 218.05,58.78 218.15,75.37 218.25,60.33 218.35,60.28 218.45,58.68 218.55,64.37 218.65,76.48 218.75,76.04 218.85,70.59 218.95,63.98 219.05,75.62 219.15,61.02 219.25,64.67 219.35,64.98 219.45,76.90 219.55,107.41 219.65,105.76 219.80,107.89 219.90,104.35 220.05,110.05 220.15,105.85 220.30,61.57 220.42,61.44 220.52,63.96 220.62,73.48 220.72,79.16 220.82,73.76 220.92,58.29 221.02,80.18 221.12,68.88 221.22,74.94 221.32,64.72 221.42,64.88 221.52,76.97 221.62,77.98 221.72,82.68 221.82,65.07 221.92,82.01 222.02,56.79 222.12,55.00 222.22,79.57 222.32,68.84 222.42,58.15 222.52,54.80 222.62,78.84 222.72,78.51 222.82,69.44 222.92,59.25 223.02,81.68 223.12,56.37 223.22,73.17 223.32,60.55 223.42,77.21 223.52,107.86 223.62,106.38 223.77,108.37 223.87,104.07 224.02,107.04 224.12,103.65 224.27,106.23 224.37,106.64 224.52,81.17 224.64,80.88 224.74,65.12 224.84,80.25 224.94,67.94 225.04,73.61 225.14,71.74 225.24,75.90 225.34,61.96 225.44,78.24 225.54,59.66 225.64,53.45 225.74,62.19 225.84,56.48 225.94,74.03 226.04,77.06 226.14,58.91 226.24,64.86 226.34,64.15 226.44,79.71 226.54,56.24 226.64,88.84 226.74,71.30 226.84,77.76 226.94,70.79 227.04,76.13 227.14,58.87 227.24,77.78 227.34,62.88 227.44,71.07 227.54,58.58 227.64,69.27 227.74,69.01 227.84,60.29 227.94,57.79 228.04,97.91 228.14,94.46 228.29,97.72 228.39,96.87 228.54,96.34 228.64,95.98 228.79,97.70 228.89,93.30 229.04,82.03 229.16,65.67 229.26,78.21 229.36,81.88 229.46,72.57 229.56,60.60 229.66,81.03 229.76,80.13 229.86,63.48 229.96,82.43 230.06,78.54 230.16,81.26 230.26,61.66 230.36,59.10 230.46,56.18 230.56,70.43 230.66,55.86 230.76,58.07 230.86,55.96 230.96,64.92 231.06,62.80 231.16,75.75 231.26,62.92 231.36,61.37 231.46,56.82 231.56,65.14 231.66,77.13 231.76,65.04 231.86,76.75 231.96,76.66 232.06,60.83 232.16,75.36 232.26,59.76 232.36,85.37 232.46,78.00 232.56,65.13 232.66,71.34 232.76,72.11 232.86,72.43 232.96,108.91 233.06,106.28 233.21,109.09 233.31,103.56 233.46,106.31 233.56,104.87 233.71,58.71 233.83,64.72 233.93,58.16 234.03,70.30 234.13,55.06 234.23,60.64 234.33,68.92 234.43,76.60 234.53,60.56 234.63,75.78 234.73,57.13 234.83,64.68 234.93,69.09 235.03,60.92 235.13,57.25 235.23,70.53 235.33,74.58 235.43,59.29 235.53,66.87 235.63,55.95 235.73,97.59 235.83,94.60 235.98,98.29 236.08,96.46 236.23,98.02 236.33,94.08 236.48,68.72 236.60,76.05 236.70,64.43 236.80,70.40 236.90,78.38 237.00,54.71 237.10,74.15 237.20,83.08 237.30,79.32 237.40,53.82 237.50,59.03 237.60,54.80 237.70,54.81 237.80,66.50 237.90,69.02 238.00,66.34 238.10,49.07 238.20,59.88 238.30,67.41 238.40,62.33 238.50,62.74 238.60,61.41 238.70,58.21 238.80,64.13 238.90,69.77 239.00,67.94 239.10,76.53 239.20,72.49 239.30,60.69 239.40,67.94 239.50,74.54 239.60,63.48 239.70,52.69 239.80,77.94 239.90,53.34 240.00,58.94 240.10,61.28 240.20,63.63 240.30,53.03 240.40,83.66 240.50,76.30 240.60,67.02 240.70,52.49 240.80,106.24 240.90,102.69 241.05,106.07 241.15,103.27 241.30,105.87 241.40,103.20 241.55,63.11 241.67,58.22 241.77,67.95 241.87,47.45 241.97,75.14 242.07,50.21 242.17,74.77 242.27,72.71 242.37,51.94 242.47,57.88 242.57,69.83 242.67,75.05 242.77,58.71 242.87,56.33 242.97,60.01 243.07,54.08 243.17,72.92 243.27,60.09 243.37,74.42 243.47,77.06 243.57,48.09 243.67,55.47 243.77,65.09 243.87,68.28 243.97,53.32 244.07,65.16 244.17,56.96 244.27,67.66 244.37,75.03 244.47,57.70 244.57,67.96 244.67,75.33 244.77,67.08 244.87,73.88 244.97,76.18 245.07,76.91 245.17,101.17 245.27,97.45 245.42,100.48 245.52,99.42 245.67,101.15 245.77,97.44 245.92,100.55 246.02,96.70 246.17,62.15 246.29,68.94 246.39,57.44 246.49,55.67 246.59,57.47 246.69,60.52 246.79,72.13 246.89,50.75 246.99,54.57 247.09,60.61 247.19,51.96 247.29,59.13 247.39,60.22 247.49,55.86 247.59,60.47 247.69,70.59 247.79,53.46 247.89,69.29 247.99,62.75 248.09,65.16 248.19,53.90 248.29,66.91 248.39,51.44 248.49,52.99 248.59,61.99 248.69,51.39 248.79,78.90 248.89,49.13 248.99,48.74 249.09,50.64 249.19,56.70 249.29,53.97 249.39,76.59 249.49,51.59 249.59,61.69 249.69,70.00 249.79,61.50 249.89,70.81 249.99,48.62 250.09,48.55 250.19,49.24 250.29,93.09 250.39,92.11 250.54,92.14 250.64,92.33 250.79,92.73 250.89,89.89 251.04,55.61 251.16,55.99 251.26,54.18 251.36,46.39 251.46,76.99 251.56,69.78 251.66,59.91 251.76,69.96 251.86,61.27 251.96,61.41 252.06,62.96 252.16,72.55 252.26,76.45 252.36,74.29 252.46,76.28 252.56,47.04 252.66,62.90 252.76,49.06 252.86,54.49 252.96,57.18 253.06,58.57 253.16,47.66 253.26,57.38 253.36,88.93 253.46,86.08 253.61,87.32 253.71,83.49 253.86,54.41 253.98,64.88 254.08,49.44 254.18,54.42 254.28,66.17 254.38,73.48 254.48,56.54 254.58,53.81 254.68,75.05 254.78,58.64 254.88,50.97 254.98,76.42 255.08,68.49 255.18,55.50 255.28,69.01 255.38,53.43 255.48,51.18 255.58,70.67 255.68,62.35 255.78,69.23 255.88,74.72 255.98,50.85 256.08,63.41 256.18,57.55 256.28,55.15 256.38,51.85 256.48,54.13 256.58,72.70 256.68,51.78 256.78,65.86 256.88,61.64 256.98,56.87 257.08,69.95 257.18,61.69 257.28,55.76 257.38,55.76 257.48,66.00 257.58,66.90 257.68,50.89 257.78,57.05 257.88,52.87 257.98,70.90 258.08,49.75 258.18,67.90 258.28,61.47 258.38,82.12 258.48,80.18 258.63,82.36 258.73,78.71 258.88,83.72 258.98,79.12 259.13,82.97 259.23,81.81 259.38,84.22 259.48,81.31 259.63,51.18 259.75,62.09 259.85,45.50 259.95,59.08 260.05,59.98 260.15,63.42 260.25,64.25 260.35,64.84 260.45,52.02 260.55,46.57 260.65,48.43 260.75,61.77 260.85,54.14 260.95,52.97 261.05,56.42 261.15,67.84 261.25,67.29 261.35,48.49 261.45,75.82 261.55,77.50 261.65,57.39 261.75,63.38 261.85,61.76 261.95,48.83 262.05,75.01 262.15,58.01 262.25,58.33 262.35,57.53 262.45,49.84 262.55,99.85 262.65,99.62 262.80,100.78 262.90,99.78 263.05,102.00 263.15,98.55 263.30,59.66 263.42,53.09 263.52,72.42 263.62,65.66 263.72,58.98 263.82,86.56 263.92,53.15 264.02,64.97 264.12,60.62 264.22,75.37 264.32,60.92 264.42,61.12 264.52,58.10 264.62,68.09 264.72,75.29 264.82,53.12 264.92,55.79 265.02,65.82 265.12,68.64 265.22,73.60 265.32,72.23 265.42,72.52 265.52,58.27 265.62,84.61 265.72,73.20 265.82,71.11 265.92,66.84 266.02,80.59 266.12,54.49 266.22,59.37 266.32,67.48 266.42,56.72 266.52,70.74 266.62,56.44 266.72,62.75 266.82,108.49 266.92,106.26 267.07,108.86 267.17,105.47 267.32,108.60 267.42,107.71 267.57,71.54 267.69,60.48 267.79,58.34 267.89,61.15 267.99,61.88 268.09,54.97 268.19,74.41 268.29,70.51 268.39,68.38 268.49,63.45 268.59,67.22 268.69,84.43 268.79,64.58 268.89,66.62 268.99,60.84 269.09,70.59 269.19,57.16 269.29,68.55 269.39,59.69 269.49,75.08 269.59,61.83 269.69,63.80 269.79,65.60 269.89,57.15 269.99,57.55 270.09,86.12 270.19,80.40 270.29,82.84 270.39,57.32 270.49,81.77 270.59,79.55 270.69,104.92 270.79,100.00 270.94,103.45 271.04,99.29 271.19,102.30 271.29,102.74 271.44,103.43 271.54,101.96 271.69,69.39 271.81,87.44 271.91,57.43 272.01,81.97 272.11,91.01 272.21,62.10 272.31,69.28 272.41,66.56 272.51,60.17 272.61,64.07 272.71,90.55 272.81,73.14 272.91,70.02 273.01,71.10 273.11,64.59 273.21,66.21 273.31,61.19 273.41,62.98 273.51,60.21 273.61,66.69 273.71,98.60 273.81,95.06 273.96,99.90 274.06,95.41 274.21,66.36 274.33,60.50 274.43,66.90 274.53,58.34 274.63,62.99 274.73,75.72 274.40,57.00 274.70,163.00 275.20,140.00" fill="none" stroke="#8d26d3" stroke-width="1.15" stroke-linejoin="round" stroke-opacity="1.0"/>
<polyline points="43.00,63.02 43.20,90.54 43.70,67.01 43.90,83.27 44.40,64.81 44.60,83.68 45.10,62.86 45.30,89.80 45.80,64.74 46.00,92.88 46.50,67.15 46.70,94.13 47.20,64.02 47.40,89.72 47.90,66.04 48.10,96.77 48.60,66.10 48.80,90.05 49.30,62.80 49.50,97.37 50.00,63.69 50.20,88.10 50.70,67.31 50.90,84.15" fill="none" stroke="#8d26d3" stroke-width="0.8" stroke-linejoin="round" stroke-opacity="0.6"/>
<polyline points="275.20,140.00 276.00,147.00 276.80,139.00 277.50,146.00 278.30,138.00 279.00,144.00 280.00,137.00 281.00,139.50 282.00,133.00 283.00,131.00 284.00,126.00 285.00,122.50 286.00,117.00 287.00,112.50 288.00,107.50 288.70,104.30 289.40,109.00 290.50,150.00 292.00,172.00 293.30,190.00 293.60,191.32 294.50,189.13 295.40,188.68 296.30,190.04 297.20,190.95 298.10,189.69 299.00,191.10 299.90,189.67 300.80,191.01 301.70,188.76 302.60,189.31 303.50,188.79 304.40,190.77 305.30,189.90 306.20,190.50 307.10,189.16 308.00,190.75 308.90,191.58 309.80,188.65 310.70,189.42 311.60,191.18 312.50,191.13 313.40,191.19 314.30,189.13 315.20,190.20 316.10,188.68 317.00,189.78 317.90,190.24 318.80,189.23 319.70,189.75 320.60,189.57 321.50,188.67 322.40,188.62 323.30,190.90 324.20,188.41 325.10,191.56 326.00,191.27 326.90,191.56 327.80,190.91 328.70,188.41 329.60,188.77 330.50,189.42 331.40,188.98 332.30,188.59 333.20,191.33 334.10,191.31 335.00,190.85" fill="none" stroke="#8d26d3" stroke-width="1.8" stroke-linejoin="round" stroke-opacity="1.0"/>
<polyline points="34.00,70.00 34.20,74.13 34.45,79.56 34.70,83.22 34.95,84.36 35.20,85.69 35.45,87.92 35.70,92.28 35.95,98.43 36.20,92.58 36.45,96.26 36.70,96.08 36.95,101.47 37.20,94.90 37.45,99.58 37.70,96.61 37.95,99.67 38.20,101.38 38.45,101.49 38.70,101.78 38.95,96.72 39.20,96.64 39.45,95.28 39.70,96.60 39.95,95.39 40.20,101.79 40.45,94.93 40.70,96.41 40.95,102.25 41.20,102.17 41.45,104.27 41.70,98.73 41.95,95.58 42.20,103.45 42.45,98.97 42.70,104.30 42.95,97.52 43.20,98.24 43.45,104.35 43.70,105.78 43.95,105.16 44.20,105.45 44.45,106.68 44.70,103.93 44.80,76.36 45.00,103.18 45.10,75.62 45.30,106.91 45.55,106.92 45.80,105.89 46.05,112.85 46.30,113.38 46.55,104.79 46.80,109.50 47.05,107.33 47.30,108.06 47.55,104.73 47.80,105.00 48.05,104.29 48.30,104.96 48.55,109.94 48.80,103.98 49.05,111.81 49.30,110.73 49.55,105.14 49.80,109.12 50.05,111.51 50.30,103.13 50.55,107.55 50.80,106.58 51.05,105.00 51.30,104.75 51.55,102.71 51.80,108.29 52.05,103.77 52.30,106.00 52.55,111.03 52.80,105.20 53.05,104.86 53.30,110.99 53.55,107.48 53.80,107.33 54.05,103.82 54.30,107.98 54.55,105.34 54.80,106.96 55.05,105.47 55.30,102.28 55.55,110.22 55.80,108.34 56.05,110.98 56.30,104.43 56.55,104.16 56.80,102.68 57.05,104.35 57.30,104.52 57.55,103.08 57.80,103.87 58.05,104.14 58.30,109.75 58.55,105.61 58.80,109.32 59.05,101.59 59.30,102.95 59.55,110.57 59.80,101.52 60.05,101.69 60.30,106.16 60.55,103.87 60.80,102.90 61.05,107.03 61.30,107.03 61.55,102.80 61.80,106.30 62.05,105.45 62.30,109.35 62.55,101.56 62.80,103.19 63.05,106.50 63.30,101.17 63.55,109.28 63.80,110.49 64.05,104.08 64.30,108.53 64.55,103.26 64.80,110.24 65.05,102.86 65.30,100.79 65.55,101.41 65.80,105.30 66.05,101.08 66.30,110.49 66.55,106.98 66.80,106.35 67.05,106.91 67.30,104.82 67.55,109.48 67.80,107.74 68.05,104.90 68.30,103.43 68.55,102.02 68.80,103.71 69.05,104.08 69.30,101.34 69.55,109.77 69.80,103.09 70.05,105.93 70.30,101.31 70.55,106.30 70.80,107.36 71.05,101.82 71.30,110.91 71.55,102.91 71.80,104.03 72.05,108.89 72.30,105.02 72.55,110.54 72.80,104.28 73.05,105.16 73.30,109.07 73.55,110.88 73.80,111.24 74.05,105.41 74.30,107.96 74.55,106.88 74.80,109.66 75.05,105.33 75.30,111.67 75.55,110.66 75.80,105.60 76.05,107.23 76.30,107.70 76.55,113.72 76.80,109.38 77.05,111.17 77.30,114.41 77.55,109.57 77.80,115.01 78.05,109.10 78.30,106.75 78.55,107.86 78.80,113.58 79.05,110.96 79.30,115.35 79.55,112.85 79.80,114.48 80.05,111.70 80.30,113.93 80.55,115.05 80.80,112.30 81.05,113.44 81.30,116.72 81.55,117.60 81.80,112.57 82.05,110.17 82.30,117.19 82.55,113.81 82.80,118.56 83.05,116.85 83.30,113.48 83.55,117.87 83.80,115.32 84.05,114.45 84.15,105.32 84.35,113.25 84.45,104.18 84.65,114.85 84.75,104.24 84.95,115.29 85.05,104.49 85.25,117.67 85.50,118.44 85.75,116.24 86.00,119.31 86.25,118.19 86.50,118.90 86.75,111.69 87.00,111.71 87.25,117.11 87.50,114.56 87.75,119.26 88.00,115.17 88.25,118.24 88.50,114.02 88.75,117.36 89.00,119.73 89.25,119.44 89.50,115.26 89.75,116.30 90.00,116.80 90.25,118.46 90.35,105.45 90.55,114.32 90.65,105.06 90.85,118.36 90.95,104.41 91.15,119.73 91.40,119.36 91.65,120.17 91.90,113.48 92.15,120.59 92.40,121.13 92.65,115.00 92.90,118.34 93.15,113.87 93.40,118.20 93.65,119.15 93.90,119.51 94.15,120.50 94.40,115.89 94.65,114.49 94.90,120.34 95.15,113.88 95.40,115.65 95.65,115.75 95.90,120.23 96.15,118.05 96.25,111.57 96.45,118.77 96.55,111.64 96.75,115.64 96.85,110.60 97.05,117.80 97.15,111.05 97.35,120.60 97.60,120.91 97.85,116.88 98.10,115.46 98.35,120.54 98.60,120.16 98.85,116.91 99.10,115.21 99.35,115.01 99.60,116.88 99.85,117.15 100.10,116.68 100.35,115.49 100.60,116.50 100.85,117.98 101.10,116.00 101.35,116.96 101.60,118.83 101.85,122.09 102.10,122.31 102.35,118.73 102.60,119.57 102.70,102.07 102.90,118.96 103.00,102.73 103.20,119.47 103.30,102.97 103.50,116.53 103.75,118.20 104.00,116.26 104.25,120.01 104.50,120.77 104.75,118.10 105.00,116.67 105.25,117.40 105.35,100.69 105.55,121.61 105.65,100.65 105.85,121.72 106.10,119.28 106.35,119.57 106.60,117.68 106.85,118.06 107.10,122.39 107.35,119.96 107.60,121.67 107.70,104.10 107.90,119.26 108.00,104.70 108.20,117.80 108.30,104.43 108.50,118.44 108.60,105.19 108.80,117.87 109.05,124.30 109.30,118.99 109.55,119.72 109.80,117.98 110.05,123.89 110.30,123.33 110.55,118.03 110.80,121.28 111.05,119.37 111.15,109.69 111.35,118.75 111.45,109.42 111.65,119.01 111.75,109.08 111.95,120.69 112.20,121.40 112.45,121.40 112.70,122.15 112.95,118.27 113.20,118.24 113.45,124.64 113.70,119.64 113.95,120.39 114.20,119.60 114.45,122.46 114.70,124.86 114.95,120.81 115.20,120.27 115.45,120.49 115.70,118.26 115.95,118.72 116.20,123.29 116.30,103.38 116.50,121.00 116.60,103.51 116.80,118.31 116.90,104.77 117.10,119.10 117.35,119.18 117.60,123.98 117.85,119.99 118.10,119.70 118.35,124.94 118.60,119.72 118.85,124.21 119.10,120.56 119.35,122.39 119.60,120.64 119.85,120.86 120.10,125.05 120.35,124.93 120.60,119.85 120.85,123.75 121.10,119.11 121.20,107.57 121.40,122.55 121.50,107.77 121.70,122.80 121.80,107.07 122.00,120.17 122.25,119.01 122.50,122.12 122.75,125.62 123.00,122.28 123.25,123.51 123.50,125.67 123.75,125.34 124.00,124.54 124.25,123.56 124.50,121.09 124.75,123.23 124.85,95.94 125.05,124.46 125.15,95.83 125.35,123.67 125.45,97.28 125.65,120.77 125.90,125.82 126.15,124.33 126.40,124.10 126.65,121.70 126.90,122.28 127.15,122.13 127.40,124.39 127.65,126.65 127.90,128.03 128.15,128.68 128.40,126.98 128.65,127.72 128.90,131.52 129.15,128.67 129.25,108.50 129.45,131.62 129.55,107.98 129.75,131.19 129.85,109.48 130.05,128.87 130.30,131.32 130.55,129.16 130.80,131.04 131.05,129.57 131.30,133.01 131.55,129.82 131.80,132.31 132.05,130.67 132.30,129.26 132.55,133.43 132.80,128.04 133.05,131.14 133.15,103.04 133.35,129.95 133.45,103.67 133.65,128.96 133.75,103.47 133.95,130.75 134.05,103.53 134.25,129.82 134.50,131.32 134.75,127.41 135.00,127.28 135.25,127.54 135.50,131.94 135.75,129.29 136.00,127.72 136.10,117.49 136.30,129.02 136.40,116.26 136.60,132.31 136.85,128.50 137.10,133.68 137.35,128.80 137.60,132.90 137.85,130.26 138.10,133.46 138.35,129.00 138.60,133.41 138.85,129.07 139.10,130.10 139.35,131.40 139.60,130.86 139.85,131.69 140.10,127.05 140.20,113.84 140.40,130.15 140.50,113.52 140.70,129.60 140.80,114.25 141.00,129.08 141.25,133.38 141.50,128.18 141.75,131.86 142.00,133.59 142.25,128.08 142.50,132.39 142.75,128.91 143.00,127.41 143.25,130.02 143.50,131.89 143.75,128.98 144.00,128.41 144.10,102.58 144.30,128.95 144.40,102.50 144.60,127.15 144.85,128.47 145.10,128.83 145.35,131.71 145.60,129.64 145.85,132.06 146.10,130.10 146.35,129.39 146.60,128.11 146.85,128.60 147.10,128.65 147.20,113.24 147.40,131.60 147.50,114.21 147.70,130.65 147.80,114.41 148.00,128.69 148.25,132.12 148.50,127.50 148.75,131.65 149.00,129.26 149.25,131.63 149.50,128.59 149.75,129.47 150.00,131.69 150.25,133.58 150.50,129.38 150.75,128.18 151.00,131.70 151.10,103.28 151.30,128.81 151.40,103.59 151.60,132.01 151.70,103.51 151.90,127.48 152.15,132.38 152.40,133.99 152.65,132.42 152.90,127.80 153.15,129.86 153.40,130.64 153.65,133.29 153.90,132.27 154.15,127.42 154.40,130.17 154.65,132.45 154.90,130.80 155.15,132.14 155.25,105.01 155.45,130.00 155.55,103.95 155.75,127.84 155.85,103.67 156.05,130.36 156.15,104.88 156.35,133.01 156.60,133.40 156.85,129.02 157.10,129.34 157.35,128.37 157.60,130.81 157.85,133.63 158.10,127.83 158.20,102.20 158.40,131.71 158.50,102.05 158.70,128.53 158.80,101.30 159.00,131.08 159.25,133.43 159.50,128.70 159.75,129.94 160.00,127.42 160.25,127.06 160.50,128.77 160.75,132.77 161.00,131.87 161.25,130.52 161.50,130.08 161.75,129.10 162.00,127.65 162.10,97.79 162.30,132.50 162.40,96.68 162.60,132.52 162.70,96.73 162.90,129.57 163.15,134.29 163.40,134.29 163.65,128.81 163.90,132.60 164.15,131.88 164.40,130.41 164.65,133.15 164.90,132.14 165.15,131.46 165.25,107.69 165.45,130.59 165.55,107.93 165.75,128.44 165.85,106.54 166.05,128.09 166.30,132.24 166.55,130.98 166.80,133.82 167.05,134.93 167.30,129.53 167.55,132.03 167.80,132.94 168.05,134.45 168.30,137.62 168.55,136.07 168.80,134.63 169.05,137.77 169.30,136.05 169.55,138.26 169.80,135.69 170.05,138.87 170.15,116.26 170.35,138.49 170.45,116.60 170.65,136.18 170.75,116.63 170.95,139.49 171.20,139.84 171.45,137.72 171.70,135.42 171.95,141.17 172.20,140.41 172.45,141.35 172.70,137.64 172.95,140.51 173.20,138.95 173.30,118.37 173.50,134.76 173.60,117.01 173.80,136.36 173.90,117.81 174.10,138.43 174.35,137.71 174.60,139.79 174.85,139.17 175.10,134.20 175.35,135.80 175.60,139.59 175.85,138.60 176.10,133.37 176.35,137.60 176.60,134.04 176.85,136.63 177.10,137.37 177.20,114.96 177.40,138.19 177.50,115.71 177.70,133.38 177.95,137.37 178.20,138.84 178.45,134.72 178.70,137.64 178.95,134.43 179.20,134.04 179.45,134.87 179.70,134.54 179.95,139.18 180.20,134.94 180.30,113.85 180.50,137.48 180.60,113.70 180.80,136.90 180.90,112.73 181.10,136.82 181.35,133.35 181.60,138.18 181.85,136.20 182.10,132.90 182.35,137.78 182.60,135.37 182.85,134.97 183.10,132.02 183.35,137.67 183.60,134.80 183.85,137.13 184.10,132.92 184.20,99.22 184.40,134.23 184.50,99.80 184.70,135.80 184.80,98.48 185.00,136.52 185.25,131.19 185.50,130.33 185.75,132.23 186.00,131.99 186.25,135.38 186.50,133.89 186.75,132.68 187.00,135.48 187.25,136.48 187.50,134.41 187.75,134.47 188.00,135.92 188.25,131.92 188.50,136.83 188.75,131.08 189.00,130.75 189.10,108.76 189.30,132.53 189.40,108.31 189.60,132.06 189.70,108.80 189.90,130.28 190.00,109.30 190.20,132.92 190.45,130.87 190.70,135.26 190.95,132.60 191.20,129.89 191.45,135.85 191.70,132.55 191.95,130.31 192.20,131.68 192.45,131.43 192.70,129.94 192.95,131.93 193.20,133.14 193.30,115.65 193.50,129.71 193.60,115.69 193.80,131.15 193.90,115.67 194.10,133.73 194.35,135.69 194.60,135.34 194.85,132.80 195.10,135.00 195.35,135.03 195.60,133.94 195.85,135.12 196.10,132.15 196.35,134.74 196.60,133.16 196.85,134.67 197.10,133.88 197.20,105.55 197.40,131.74 197.50,106.66 197.70,135.26 197.95,129.90 198.20,134.20 198.45,131.91 198.70,129.79 198.95,131.83 199.20,133.98 199.45,130.08 199.70,135.44 199.95,129.80 200.20,131.17 200.45,131.81 200.70,129.95 200.95,135.98 201.20,130.54 201.30,117.60 201.50,131.27 201.60,116.51 201.80,133.12 201.90,116.10 202.10,129.53 202.20,117.79 202.40,131.98 202.65,135.06 202.90,132.48 203.15,130.15 203.40,132.82 203.65,130.70 203.90,130.07 204.15,129.63 204.40,132.31 204.65,131.31 204.90,131.85 205.15,136.23 205.40,135.30 205.65,134.44 205.90,131.21 206.15,132.27 206.25,109.98 206.45,130.59 206.55,110.34 206.75,130.95 206.85,111.27 207.05,132.76 207.30,134.24 207.55,135.78 207.80,133.85 208.05,130.63 208.30,131.74 208.55,135.96 208.80,129.82 209.05,131.05 209.30,133.83 209.55,135.48 209.80,135.24 210.05,131.47 210.15,99.58 210.35,132.84 210.45,99.61 210.65,133.70 210.75,99.72 210.95,129.75 211.20,136.59 211.45,130.79 211.70,133.72 211.95,130.09 212.20,136.55 212.45,129.82 212.70,134.54 212.95,135.65 213.20,131.84 213.45,129.84 213.70,130.07 213.95,130.26 214.20,134.56 214.30,114.77 214.50,132.97 214.60,113.91 214.80,131.02 214.90,115.47 215.10,136.59 215.35,133.01 215.60,135.53 215.85,135.03 216.10,132.24 216.35,132.45 216.60,137.04 216.85,139.29 217.10,140.19 217.35,136.55 217.60,135.26 217.85,137.78 218.10,137.59 218.20,122.83 218.40,137.27 218.50,123.06 218.70,138.54 218.80,122.81 219.00,139.12 219.10,122.67 219.30,136.19 219.55,136.23 219.80,138.05 220.05,141.63 220.30,141.79 220.55,140.34 220.80,139.49 221.05,138.70 221.15,123.33 221.35,139.66 221.45,122.57 221.65,138.49 221.75,123.46 221.95,139.21 222.05,122.29 222.25,140.07 222.50,141.26 222.75,139.30 223.00,136.06 223.25,141.27 223.50,135.53 223.75,136.39 224.00,136.51 224.10,120.32 224.30,138.15 224.40,118.95 224.60,135.97 224.70,120.33 224.90,140.32 225.15,135.13 225.40,138.23 225.65,139.54 225.90,136.79 226.15,134.92 226.40,137.37 226.65,140.96 226.90,139.50 227.15,135.85 227.40,140.24 227.65,138.97 227.90,136.29 228.15,136.36 228.25,109.26 228.45,135.73 228.55,110.28 228.75,139.48 229.00,137.57 229.25,140.83 229.50,138.78 229.75,140.69 230.00,139.77 230.25,138.40 230.50,138.78 230.75,139.31 231.00,135.63 231.10,121.24 231.30,135.15 231.40,122.36 231.60,138.59 231.70,121.40 231.90,135.96 232.00,120.78 232.20,140.50 232.45,138.34 232.70,140.34 232.95,137.98 233.20,137.12 233.45,138.72 233.70,139.65 233.95,139.32 234.20,135.79 234.45,136.88 234.70,139.91 234.95,136.80 235.20,137.59 235.30,108.74 235.50,133.23 235.60,108.79 235.80,135.51 235.90,109.34 236.10,139.80 236.35,140.03 236.60,133.95 236.85,138.81 237.10,136.50 237.35,138.79 237.60,135.44 237.85,138.23 238.10,134.53 238.20,116.51 238.40,134.36 238.50,116.85 238.70,135.39 238.80,117.06 239.00,137.79 239.25,138.40 239.50,139.31 239.75,137.22 240.00,134.30 240.25,136.54 240.50,135.54 240.75,134.11 241.00,134.78 241.25,134.04 241.50,136.20 241.75,132.88 242.00,132.43 242.10,100.64 242.30,137.50 242.40,101.25 242.60,132.74 242.70,101.24 242.90,137.28 243.15,133.29 243.40,135.15 243.65,133.81 243.90,136.10 244.15,138.05 244.40,133.96 244.65,133.24 244.90,133.23 245.15,136.54 245.40,132.72 245.65,135.90 245.90,137.88 246.15,137.56 246.40,136.87 246.65,132.24 246.90,135.18 247.15,132.94 247.25,102.76 247.45,137.14 247.55,104.25 247.75,132.66 247.85,104.14 248.05,132.56 248.30,134.46 248.55,139.03 248.80,138.64 249.05,135.32 249.30,136.95 249.55,134.70 249.80,137.95 250.05,134.21 250.30,133.44 250.55,133.01 250.80,136.42 251.05,135.90 251.30,138.32 251.55,133.03 251.80,137.63 252.05,132.60 252.15,115.19 252.35,132.46 252.45,115.56 252.65,135.98 252.75,115.18 252.95,135.14 253.20,132.31 253.45,136.75 253.70,132.69 253.95,137.55 254.20,136.29 254.45,133.33 254.70,136.89 254.95,134.44 255.20,135.67 255.45,135.90 255.70,133.90 255.95,134.92 256.20,136.46 256.30,112.71 256.50,136.58 256.60,111.85 256.80,137.16 256.90,111.66 257.10,136.72 257.20,113.16 257.40,134.73 257.65,137.53 257.90,138.70 258.15,133.15 258.40,136.55 258.65,132.03 258.90,136.65 259.15,132.43 259.40,136.67 259.65,132.19 259.90,134.82 260.15,138.14 260.40,134.34 260.65,139.11 260.90,135.75 261.15,133.39 261.25,106.55 261.45,137.52 261.55,107.25 261.75,135.49 261.85,105.79 262.05,135.20 262.15,105.95 262.35,135.73 262.60,136.12 262.85,135.69 263.10,134.92 263.35,140.28 263.60,135.49 263.85,139.79 264.10,139.05 264.20,113.69 264.40,140.08 264.50,113.88 264.70,140.72 264.80,113.90 265.00,142.13 265.25,142.05 265.50,140.95 265.75,138.30 266.00,139.41 266.25,136.55 266.50,141.08 266.75,140.52 267.00,136.67 267.10,121.93 267.30,139.84 267.40,120.78 267.60,136.22 267.85,138.27 268.10,138.38 268.35,136.36 268.60,136.68 268.85,137.43 269.10,136.10 269.35,137.03 269.60,136.18 269.85,138.59 270.10,139.17 270.20,122.43 270.40,136.98 270.50,121.59 270.70,136.97 270.80,123.39 271.00,141.70 271.25,139.99 271.50,140.29 271.75,141.22 272.00,141.75 272.25,137.69 272.50,141.62 272.75,140.54 273.00,136.90 273.10,119.65 273.30,141.09 273.40,120.14 273.60,136.87 273.70,118.80 273.90,137.97" fill="none" stroke="#58a985" stroke-width="1.3" stroke-linejoin="round" stroke-opacity="1.0"/>
<polyline points="274.00,139.00 274.80,150.00 275.60,157.50 276.60,160.50 277.80,160.00 280.00,154.00 282.00,145.50 284.00,138.50 286.00,134.00 287.50,132.20 288.60,132.00 289.50,134.00 290.50,150.00 292.00,172.00 293.30,190.00 293.60,189.53 294.40,189.48 295.20,190.66 296.00,189.83 296.80,190.33 297.60,189.83 298.40,191.17 299.20,190.38 300.00,189.48 300.80,190.75 301.60,189.78 302.40,190.11 303.20,189.77 304.00,190.18 304.80,189.81 305.60,189.84 306.40,189.52 307.20,191.12 308.00,189.61 308.80,189.77 309.60,190.02 310.40,189.44 311.20,189.66 312.00,190.01 312.80,190.37 313.60,190.27 314.40,189.94 315.20,190.55 316.00,190.69 316.80,189.73 317.60,189.68 318.40,190.45 319.20,190.02 320.00,190.86 320.80,189.22 321.60,190.28 322.40,189.90 323.20,189.62 324.00,190.94 324.80,189.63 325.60,190.78 326.40,190.91 327.20,191.13 328.00,189.43 328.80,189.51 329.60,189.37 330.40,189.84 331.20,191.01 332.00,190.49 332.80,189.51 333.60,189.41 334.40,190.70 335.20,190.45" fill="none" stroke="#58a985" stroke-width="1.9" stroke-linejoin="round" stroke-opacity="1.0"/>
<polyline points="403.00,6.50 403.30,6.73 403.60,6.95 403.90,7.18 404.20,7.40 404.50,7.63 404.80,7.85 405.10,8.15 405.40,8.62 405.70,9.08 406.00,9.54 406.30,10.00 406.60,10.57 406.90,11.14 407.20,11.70 407.50,12.27 407.80,12.84 408.10,13.41 408.40,13.97 408.70,14.54 409.00,15.11 409.30,15.68 409.60,16.24 409.90,16.81 410.20,17.32 410.50,17.80 410.80,18.28 411.10,18.76 411.40,19.24 411.70,19.72 412.00,20.20 412.30,20.68 412.60,21.16 412.90,21.64 413.20,22.12 413.50,22.60 413.80,23.08 414.10,23.56 414.40,24.04 414.70,24.52 415.00,25.00 415.30,25.52 415.60,26.03 415.90,26.55 416.20,27.07 416.50,27.59 416.80,28.10 417.10,28.62 417.40,29.14 417.70,29.66 418.00,30.17 418.30,30.69 418.60,31.21 418.90,31.72 419.20,32.24 419.50,32.76 419.80,33.28 420.10,33.79 420.40,34.31 420.70,34.83 421.00,35.42 421.30,36.05 421.60,36.68 421.90,37.31 422.20,37.94 422.50,38.56 422.80,39.19 423.10,39.82 423.40,40.45 423.70,41.08 424.00,41.71 424.30,42.34 424.60,42.97 424.90,43.60 425.20,44.23 425.50,44.85 425.80,45.48 426.10,46.11 426.40,46.74 426.70,47.37 427.00,48.00 427.30,48.57 427.60,49.14 427.90,49.71 428.20,50.28 428.50,50.85 428.80,51.42 429.10,51.99 429.40,52.56 429.70,53.13 430.00,53.70 430.30,54.27 430.60,54.84 430.90,55.41 431.20,55.98 431.50,56.55 431.80,57.12 432.10,57.69 432.40,58.26 432.70,58.83 433.00,59.40 433.30,59.97 433.60,60.54 433.90,61.11 434.20,61.63 434.50,62.12 434.80,62.61 435.10,63.10 435.40,63.60 435.70,64.09 436.00,64.58 436.30,65.07 436.60,65.56 436.90,66.06 437.20,66.55 437.50,67.04 437.80,67.53 438.10,68.02 438.40,68.52 438.70,69.01 439.00,69.50 439.30,69.98 439.60,70.46 439.90,70.94 440.20,71.42 440.50,71.90 440.80,72.38 441.10,72.86 441.40,73.34 441.70,73.82 442.00,74.30 442.30,74.78 442.60,75.26 442.90,75.74 443.20,76.22 443.50,76.70 443.80,77.18 444.10,77.66 444.40,78.13 444.70,78.60 445.00,79.07 445.30,79.54 445.60,80.01 445.90,80.49 446.20,80.96 446.50,81.43 446.80,81.90 447.10,82.37 447.40,82.84 447.70,83.31 448.00,83.79 448.30,84.26 448.60,84.73 448.90,85.20 449.20,85.67 449.50,86.14 449.80,86.61 450.10,87.09 450.40,87.56 450.70,88.03 451.00,88.50 451.30,88.93 451.60,89.36 451.90,89.79 452.20,90.23 452.50,90.66 452.80,91.09 453.10,91.52 453.40,91.95 453.70,92.38 454.00,92.81 454.30,93.24 454.60,93.68 454.90,94.11 455.20,94.58 455.50,95.04 455.80,95.50 456.10,95.91 456.40,96.32 456.70,96.73 457.00,97.14 457.30,97.55 457.60,97.96 457.90,98.37 458.20,98.78 458.50,99.19 458.80,99.63 459.10,100.06 459.40,100.43 459.70,100.80 460.00,101.18 460.30,101.55 460.60,101.92 460.90,102.24 461.20,102.56 461.50,102.88 461.80,103.20 462.10,103.52 462.40,103.83 462.70,104.14 463.00,104.44 463.30,104.74 463.60,105.09 463.90,105.47 464.20,105.87 464.50,106.28 464.80,106.70 465.10,107.12 465.40,107.52 465.70,107.81 466.00,108.10 466.30,108.39 466.60,108.67 466.90,108.94 467.20,109.20 467.50,109.47 467.80,109.72 468.10,109.97 468.40,110.39 468.70,110.86 469.00,111.33 469.30,111.81 469.60,112.29 469.90,112.79 470.20,113.12 470.50,113.33 470.80,113.53 471.10,113.72 471.40,113.91 471.70,114.09 472.00,114.27 472.30,114.44 472.60,114.60 472.90,114.84 473.20,115.33 473.50,115.82 473.80,116.33 474.10,116.84 474.40,117.36 474.70,117.89 475.00,118.05 475.30,118.21 475.60,118.36 475.90,118.50 476.20,118.64 476.50,118.77 476.80,118.90 477.10,119.02 477.40,119.13 477.70,119.57 478.00,120.13 478.30,120.70 478.60,121.28 478.90,121.87 479.20,122.47 479.50,122.80 479.80,122.91 480.10,123.02 480.40,123.12 480.70,123.21 481.00,123.30 481.30,123.38 481.60,123.45 481.90,123.52 482.20,123.78 482.50,124.41 482.80,125.06 483.10,125.72 483.40,126.39 483.70,127.07 484.00,127.63 484.30,127.71 484.60,127.78 484.90,127.84 485.20,127.90 485.50,127.95 485.80,128.00 486.10,128.04 486.40,128.08 486.70,128.15 487.00,128.86 487.30,129.58 487.60,130.31 487.90,131.06 488.20,131.81 488.50,132.56 488.80,132.60 489.10,132.63 489.40,132.65 489.70,132.66 490.00,132.66 490.30,132.66 490.60,132.65 490.90,132.64 491.20,132.63 491.50,133.31 491.80,134.08 492.10,134.84 492.40,135.61 492.70,136.38 493.00,137.15 493.30,137.24 493.60,137.23 493.90,137.22 494.20,137.20 494.50,137.19 494.80,137.18 495.10,137.16 495.40,137.15 495.70,137.13 496.00,137.78 496.30,138.55 496.60,139.33 496.90,140.10 497.20,140.88 497.50,141.65 497.80,141.75 498.10,141.73 498.40,141.72 498.70,141.70 499.00,141.68 499.30,141.66 499.60,141.64 499.90,141.62 500.20,141.60 500.50,142.30 500.80,143.08 501.10,143.86 501.40,144.64 501.70,145.43 502.00,146.21 502.30,146.23 502.60,146.17 502.90,146.04 503.20,145.91 503.50,145.78 503.80,145.65 504.10,145.52 504.40,145.39 504.70,145.31 505.00,145.99 505.30,146.68 505.60,147.36 505.90,148.04 506.20,148.72 506.50,149.28 506.80,149.15 507.10,149.01 507.40,148.88 507.70,148.75 508.00,148.61 508.30,148.48 508.60,148.34 508.90,148.21 509.20,148.35 509.50,149.03 509.80,149.72 510.10,150.41 510.40,151.11 510.70,151.80 511.00,152.10 511.30,151.96 511.60,151.82 511.90,151.68 512.20,151.54 512.50,151.40 512.80,151.26 513.10,151.12 513.40,150.98 513.70,151.44 514.00,152.13 514.30,152.83 514.60,153.53 514.90,154.23 515.20,154.93 515.50,154.87 515.80,154.73 516.10,154.59 516.40,154.44 516.70,154.30 517.00,154.15 517.30,154.01 517.60,153.84 517.90,153.82 518.20,154.47 518.50,155.13 518.80,155.78 519.10,156.44 519.40,157.09 519.70,157.39 520.00,157.19 520.30,156.99 520.60,156.79 520.90,156.59 521.20,156.39 521.50,156.19 521.80,155.99 522.10,155.78 522.40,156.27 522.70,156.93 523.00,157.59 523.30,158.26 523.60,158.92 523.90,159.53 524.20,159.33 524.50,159.12 524.80,158.92 525.10,158.71 525.40,158.51 525.70,158.30 526.00,158.10 526.30,157.89 526.60,158.11 526.90,158.78 527.20,159.45 527.50,160.12 527.80,160.80 528.10,161.47 528.40,161.44 528.70,161.23 529.00,161.02 529.30,160.77 529.60,160.53 529.90,160.28 530.20,160.03 530.50,159.79 530.80,159.80 531.10,160.44 531.40,161.09 531.70,161.73 532.00,162.38 532.30,163.02 532.60,163.10 532.90,162.85 533.20,162.60 533.50,162.35 533.80,162.10 534.10,161.85 534.40,161.60 534.70,161.35 535.00,161.25 535.30,161.90 535.60,162.55 535.90,163.21 536.20,163.86 536.50,164.51 536.80,164.66 537.10,164.41 537.40,164.16 537.70,163.90 538.00,163.65 538.30,163.40 538.60,163.14 538.90,162.88 539.20,162.75 539.50,163.40 539.80,164.06 540.10,164.72 540.40,165.37 540.70,166.03 541.00,166.20 541.30,165.94 541.60,165.68 541.90,165.42 542.20,165.16 542.50,164.90 542.80,164.64 543.10,164.37 543.40,164.25 543.70,164.92 544.00,165.58 544.30,166.24 544.60,166.90 544.90,167.57 545.20,167.69 545.50,167.43 545.80,167.16 546.10,166.90 546.40,166.63 546.70,166.37 547.00,166.10 547.30,165.83 547.60,165.80 547.90,166.46 548.20,167.13 548.50,167.80 548.80,168.47 549.10,169.14 549.40,169.15 549.70,168.89 550.00,168.62 550.30,168.35 550.60,168.08 550.90,167.81 551.20,167.53 551.50,167.26 551.80,167.38 552.10,168.05 552.40,168.73 552.70,169.41 553.00,170.08 553.30,170.76 553.60,170.59 553.90,170.32 554.20,170.01 554.50,169.68 554.80,169.35 555.10,169.03 555.40,168.70 555.70,168.37 556.00,168.66 556.30,169.29 556.60,169.92 556.90,170.55 557.20,171.18 557.50,171.67 557.80,171.34 558.10,171.01 558.40,170.68 558.70,170.34 559.00,170.01 559.30,169.68 559.60,169.35 559.90,169.01 560.20,169.58 560.50,170.20 560.80,170.82 561.10,171.45 561.40,172.07 561.70,172.22 562.00,171.87 562.30,171.52 562.60,171.17 562.90,170.81 563.20,170.46 563.50,170.11 563.80,169.75 564.10,169.70 564.40,170.33 564.70,170.95 565.00,171.58 565.30,172.21 565.60,172.84 565.90,172.61 566.20,172.25 566.50,171.89 566.80,171.54 567.10,171.18 567.40,170.82 567.70,170.46 568.00,170.10 568.30,170.48 568.60,171.12 568.90,171.75 569.20,172.39 569.50,173.03 569.80,173.32 570.10,172.96 570.40,172.60 570.70,172.24 571.00,171.88 571.30,171.51 571.60,171.15 571.90,170.79 572.20,170.67 572.50,171.31 572.80,171.96 573.10,172.60 573.40,173.24 573.70,173.89 574.00,173.65 574.30,173.28 574.60,172.92 574.90,172.55 575.20,172.21 575.50,171.88 575.80,171.55 576.10,171.22 576.40,171.72 576.70,172.41 577.00,173.10 577.30,173.78 577.60,174.47 577.90,174.68 578.20,174.35 578.50,174.02 578.80,173.68 579.10,173.35 579.40,173.01 579.70,172.68 580.00,172.34 580.30,172.48 580.60,173.17 580.90,173.87 581.20,174.56 581.50,175.26 581.80,175.82 582.10,175.48 582.40,175.14 582.70,174.80 583.00,174.47 583.30,174.13 583.60,173.79 583.90,173.45 584.20,173.28 584.50,173.98 584.80,174.68 585.10,175.38 585.40,176.08 585.70,176.79 586.00,176.59 586.30,176.24 586.60,175.90 586.90,175.56 587.20,175.21 587.50,174.87 587.80,174.52 588.10,174.18 588.40,174.82 588.70,175.53 589.00,176.24 589.30,176.95 589.60,177.66 589.90,177.67 590.20,177.34 590.50,177.03 590.80,176.71 591.10,176.40 591.40,176.08 591.70,175.77 592.00,175.45 592.30,175.96 592.60,176.71 592.90,177.46 593.20,178.21 593.50,178.96 593.80,179.15 594.10,178.83 594.40,178.51 594.70,178.20 595.00,177.88 595.30,177.56 595.60,177.23 595.90,176.91 596.20,177.30 596.50,178.02 596.80,178.74 597.10,179.47 597.40,180.19 597.70,180.42 598.00,180.06 598.30,179.70 598.60,179.35 598.90,178.99 599.20,178.63 599.50,178.27 599.80,177.90 600.10,178.25 600.40,179.00 600.70,179.74 601.00,180.48 601.30,181.23 601.60,181.48 601.90,181.14 602.20,180.79 602.50,180.44 602.80,180.10 603.10,179.75 603.40,179.40 603.70,179.06 604.00,179.43 604.30,180.18 604.60,180.92 604.90,181.67 605.20,182.41 605.50,182.63 605.80,182.27 606.10,181.91 606.40,181.55 606.70,181.20 607.00,180.84 607.30,180.48 607.60,180.12 607.90,180.54 608.20,181.16 608.50,181.73 608.80,182.29 609.10,182.86 609.40,182.85 609.70,182.32 610.00,181.79 610.30,181.26 610.60,180.73 610.90,180.21 611.20,179.68 611.50,179.15 611.80,179.47 612.10,180.05 612.40,180.65 612.70,181.25 613.00,181.85 613.30,181.77 613.60,181.27 613.90,180.77 614.20,180.27 614.50,179.77 614.80,179.27 615.10,178.77 615.40,178.27 615.70,178.74 616.00,179.34 616.30,179.94 616.60,180.54 616.90,181.14 617.20,180.94 617.50,180.44 617.80,179.94 618.10,179.44 618.40,178.94 618.70,178.44 619.00,177.94 619.30,177.45 619.60,178.05 619.90,178.65 620.20,179.28 620.50,179.94 620.80,180.59 621.10,180.29 621.40,179.84 621.70,179.40 622.00,178.95 622.30,178.50 622.60,178.05 622.90,177.60 623.20,177.34 623.50,178.00 623.80,178.65 624.10,179.31 624.40,179.96 624.70,180.58 625.00,180.13 625.30,179.68 625.60,179.23 625.90,178.78 626.20,178.33 626.50,177.88 626.80,177.44 627.10,177.38 627.40,178.03 627.70,178.69 628.00,179.35 628.30,180.01 628.60,180.40 628.90,179.95 629.20,179.51 629.50,179.08 629.80,178.64 630.10,178.21 630.40,177.77 630.70,177.33 631.00,177.53 631.30,178.20 631.60,178.87 631.90,179.55 632.20,180.22 632.50,180.38 632.80,179.95 633.10,179.51 633.40,179.07 633.70,178.63 634.00,178.20 634.30,177.76 634.60,177.32 634.90,177.79 635.20,178.46 635.50,179.14 635.80,179.81 636.10,180.49 636.40,180.37 636.70,179.93 637.00,179.49 637.30,179.08 637.60,178.67 637.90,178.27 638.20,177.86 638.50,177.54 638.80,178.25 639.10,178.96 639.40,179.66 639.70,180.37 640.00,181.07 640.30,180.67 640.60,180.26 640.90,179.85 641.20,179.44 641.50,179.03 641.80,178.62 642.10,178.21 642.40,178.23 642.70,178.94 643.00,179.65 643.30,180.36 643.60,181.06 643.90,181.42 644.20,181.01 644.50,180.60 644.80,180.19 645.10,179.82 645.40,179.52 645.70,179.23 646.00,178.93 646.30,179.43 646.60,180.25 646.90,181.07 647.20,181.89 647.50,182.72 647.80,182.81 648.10,182.51 648.40,182.21 648.70,181.91 649.00,181.61 649.30,181.32 649.60,181.02 649.90,180.80 650.20,181.58 650.50,182.33 650.80,183.09 651.10,183.85 651.40,184.58 651.70,184.21 652.00,183.85 652.30,183.48 652.60,183.12 652.90,182.75 653.20,182.38 653.50,182.02 653.80,182.16 654.10,182.92 654.40,183.68 654.70,184.44 655.00,185.19 655.30,185.49 655.60,185.12 655.90,184.75 656.20,184.38 656.50,184.02 656.80,183.65 657.10,183.28 657.40,182.92 657.70,183.52 658.00,184.28 658.30,185.04 658.60,185.80 658.90,186.56 659.20,186.28 659.50,185.76 659.80,185.24 660.10,184.72 660.40,184.20 660.70,183.69 661.00,183.17 661.30,183.00 661.60,183.61 661.90,184.22 662.20,184.83 662.50,185.44 662.80,185.72 663.10,185.21 663.40,184.69 663.70,184.17 664.00,183.65 664.30,183.13 664.60,182.61 664.90,182.09 665.20,182.45 665.50,183.06 665.80,183.67 666.10,184.29 666.40,184.90 666.70,184.64 667.00,184.12 667.30,183.60 667.60,183.08 667.90,182.56 668.20,182.06 668.50,181.56 668.80,181.38 669.10,182.02 669.40,182.66 669.70,183.30 670.00,183.94 670.30,184.27 670.60,183.77 670.90,183.28 671.20,182.78 671.50,182.29 671.80,181.80 672.10,181.30 672.40,180.81 672.70,181.22 673.00,181.86 673.30,182.50 673.60,183.14 673.90,183.79 674.20,183.37 674.50,182.79 674.80,182.34 675.10,182.04 675.40,181.87 675.70,181.36 676.00,180.75 676.30,180.00 676.60,179.25 676.90,178.50 677.20,177.75 677.50,177.00 677.80,175.80 678.10,174.60 678.40,173.40 678.70,172.20 679.00,171.00 679.30,170.00 679.60,169.00 679.90,168.00 680.20,167.00 680.50,166.00 680.80,165.36 681.10,164.72 681.40,164.08 681.70,163.44 682.00,162.80 682.30,162.58 682.60,162.30 682.90,161.96 683.20,161.55 683.50,161.08 683.80,160.80 684.10,160.88 684.40,161.17 684.70,161.45 685.00,161.73 685.30,161.70 685.60,161.45 685.90,161.19 686.20,160.93 686.50,160.68 686.80,160.42 687.10,160.20 687.40,160.15 687.70,160.54 688.00,160.94 688.30,161.33 688.60,161.72 688.90,161.99 689.20,161.85 689.50,161.70 689.80,161.56 690.10,161.41 690.40,161.27 690.70,161.13 691.00,160.99 691.30,161.29 691.60,161.69 691.90,162.09 692.00,162.00 693.00,156.00 694.00,142.00 695.00,110.00 695.70,60.00 696.20,5.50" fill="none" stroke="#8d26d3" stroke-width="1.7" stroke-linejoin="round" stroke-opacity="1.0"/>
<rect x="33.00" y="4.50" width="307.90" height="212.20" fill="none" stroke="#000" stroke-width="2.2"/>
<rect x="402.40" y="5.40" width="299.60" height="211.30" fill="none" stroke="#000" stroke-width="2.2"/>
<text x="27.00" y="220.30" font-size="10.0" text-anchor="end" textLength="8.27" lengthAdjust="spacingAndGlyphs">-1</text>
<text x="27.00" y="193.77" font-size="10.0" text-anchor="end" textLength="5.17" lengthAdjust="spacingAndGlyphs">0</text>
<text x="27.00" y="167.25" font-size="10.0" text-anchor="end" textLength="5.17" lengthAdjust="spacingAndGlyphs">1</text>
<text x="27.00" y="140.72" font-size="10.0" text-anchor="end" textLength="5.17" lengthAdjust="spacingAndGlyphs">2</text>
<text x="27.00" y="114.20" font-size="10.0" text-anchor="end" textLength="5.17" lengthAdjust="spacingAndGlyphs">3</text>
<text x="27.00" y="87.67" font-size="10.0" text-anchor="end" textLength="5.17" lengthAdjust="spacingAndGlyphs">4</text>
<text x="27.00" y="61.15" font-size="10.0" text-anchor="end" textLength="5.17" lengthAdjust="spacingAndGlyphs">5</text>
<text x="27.00" y="34.63" font-size="10.0" text-anchor="end" textLength="5.17" lengthAdjust="spacingAndGlyphs">6</text>
<text x="27.00" y="8.10" font-size="10.0" text-anchor="end" textLength="5.17" lengthAdjust="spacingAndGlyphs">7</text>
<text x="33.70" y="229.90" font-size="10.0" text-anchor="middle" textLength="5.17" lengthAdjust="spacingAndGlyphs">0</text>
<text x="85.02" y="229.90" font-size="10.0" text-anchor="middle" textLength="5.17" lengthAdjust="spacingAndGlyphs">5</text>
<text x="136.33" y="229.90" font-size="10.0" text-anchor="middle" textLength="10.34" lengthAdjust="spacingAndGlyphs">10</text>
<text x="187.65" y="229.90" font-size="10.0" text-anchor="middle" textLength="10.34" lengthAdjust="spacingAndGlyphs">15</text>
<text x="238.97" y="229.90" font-size="10.0" text-anchor="middle" textLength="10.34" lengthAdjust="spacingAndGlyphs">20</text>
<text x="290.28" y="229.90" font-size="10.0" text-anchor="middle" textLength="10.34" lengthAdjust="spacingAndGlyphs">25</text>
<text x="341.60" y="229.90" font-size="10.0" text-anchor="middle" textLength="10.34" lengthAdjust="spacingAndGlyphs">30</text>
<text x="396.60" y="9.00" font-size="10.0" text-anchor="end" textLength="5.17" lengthAdjust="spacingAndGlyphs">0</text>
<text x="396.60" y="39.19" font-size="10.0" text-anchor="end" textLength="8.27" lengthAdjust="spacingAndGlyphs">-2</text>
<text x="396.60" y="69.37" font-size="10.0" text-anchor="end" textLength="8.27" lengthAdjust="spacingAndGlyphs">-4</text>
<text x="396.60" y="99.56" font-size="10.0" text-anchor="end" textLength="8.27" lengthAdjust="spacingAndGlyphs">-6</text>
<text x="396.60" y="129.74" font-size="10.0" text-anchor="end" textLength="8.27" lengthAdjust="spacingAndGlyphs">-8</text>
<text x="396.60" y="159.93" font-size="10.0" text-anchor="end" textLength="13.44" lengthAdjust="spacingAndGlyphs">-10</text>
<text x="396.60" y="190.11" font-size="10.0" text-anchor="end" textLength="13.44" lengthAdjust="spacingAndGlyphs">-12</text>
<text x="396.60" y="220.30" font-size="10.0" text-anchor="end" textLength="13.44" lengthAdjust="spacingAndGlyphs">-14</text>
<text x="403.10" y="229.90" font-size="10.0" text-anchor="middle" textLength="5.17" lengthAdjust="spacingAndGlyphs">0</text>
<text x="460.77" y="229.90" font-size="10.0" text-anchor="middle" textLength="5.17" lengthAdjust="spacingAndGlyphs">5</text>
<text x="518.45" y="229.90" font-size="10.0" text-anchor="middle" textLength="10.34" lengthAdjust="spacingAndGlyphs">10</text>
<text x="576.12" y="229.90" font-size="10.0" text-anchor="middle" textLength="10.34" lengthAdjust="spacingAndGlyphs">15</text>
<text x="633.80" y="229.90" font-size="10.0" text-anchor="middle" textLength="10.34" lengthAdjust="spacingAndGlyphs">20</text>
<text x="691.48" y="229.90" font-size="10.0" text-anchor="middle" textLength="10.34" lengthAdjust="spacingAndGlyphs">25</text>
<text x="186.50" y="244.20" font-size="12.2" text-anchor="middle" textLength="24.4" lengthAdjust="spacingAndGlyphs">t, [s]</text>
<text x="551.60" y="244.20" font-size="12.2" text-anchor="middle" textLength="24.4" lengthAdjust="spacingAndGlyphs">t, [s]</text>
<g transform="translate(10.1,0) rotate(-90)"><text x="-133.5" y="0" font-size="12.5">T</text><text x="-125.3" y="2.8" font-size="9.5">e</text><text x="-117.0" y="0" font-size="12.5" textLength="29.8" lengthAdjust="spacingAndGlyphs">[keV]</text></g>
<g transform="translate(373.4,0) rotate(-90)"><text x="-132.0" y="0" font-size="12.5">I</text><text x="-128.1" y="2.7" font-size="10.5" textLength="15.5" lengthAdjust="spacingAndGlyphs">tor,</text><text x="-110.0" y="0" font-size="12" textLength="20.4" lengthAdjust="spacingAndGlyphs">[kA]</text></g>
<text x="286.2" y="17.2" font-size="12.5" text-anchor="end">T<tspan font-size="10" dy="3.4">e</tspan><tspan dy="-3.4"> (ECE13)</tspan></text>
<text x="286.2" y="29.9" font-size="12.5" text-anchor="end">T<tspan font-size="10" dy="3.4">e</tspan><tspan dy="-3.4"> (ECE24)</tspan></text>
<line x1="294" y1="14.5" x2="327.5" y2="14.5" stroke="#8d26d3" stroke-width="1.6"/>
<line x1="294" y1="27" x2="327.5" y2="27" stroke="#64b08f" stroke-width="2"/>
<text x="603.7" y="23.3" font-size="19.8">I<tspan font-size="15" dy="5.0" dx="0.3">tor</tspan></text>
<line x1="637.5" y1="18.2" x2="686" y2="18.2" stroke="#8d26d3" stroke-width="1.6"/></svg>
</body></html>
